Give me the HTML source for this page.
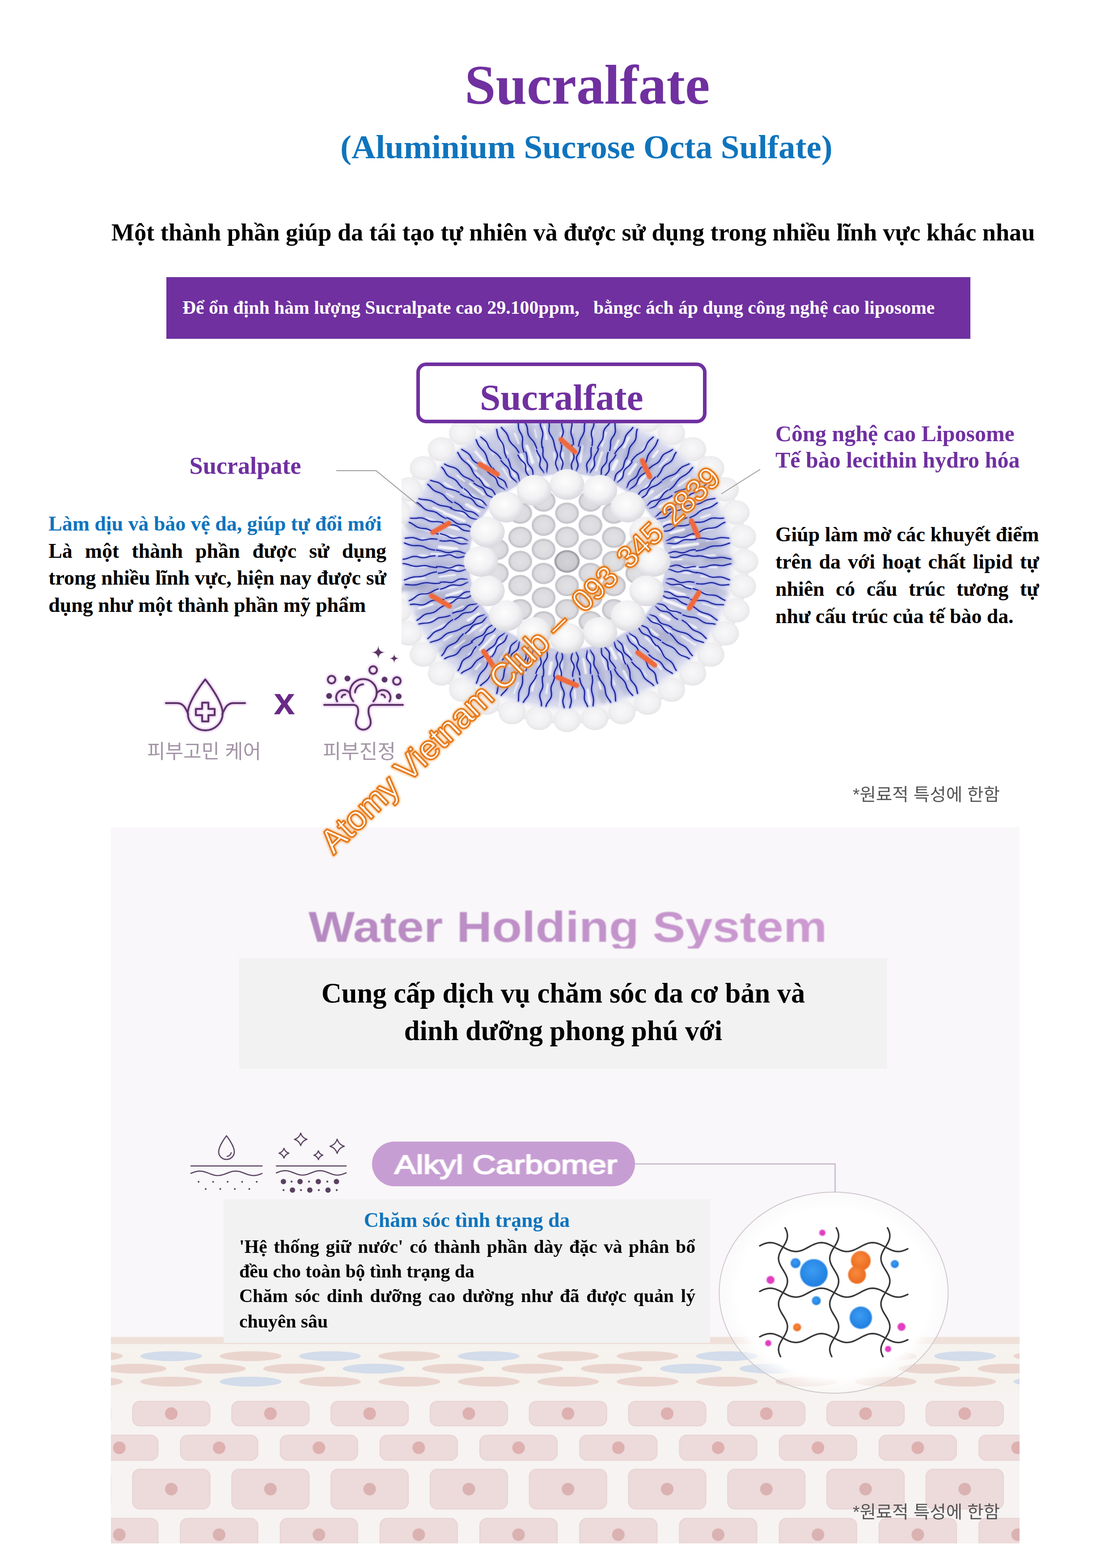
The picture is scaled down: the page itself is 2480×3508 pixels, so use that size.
<!DOCTYPE html>
<html><head><meta charset="utf-8"><title>Sucralfate</title><style>
*{box-sizing:border-box}
html,body{margin:0;padding:0;background:#fff}
body{width:2480px;height:3508px;position:relative;overflow:hidden;font-family:"Liberation Serif",serif;font-weight:bold;color:#000}
.t{position:absolute;white-space:nowrap;line-height:1;margin:0}
.j{text-align:justify;text-align-last:justify;white-space:normal}
.c{text-align:center}
.abs{position:absolute}
svg{position:absolute;left:0;top:0;overflow:visible}

.panel{position:absolute;left:248px;top:1851px;width:2032px;height:1602px;background:#f9f7f9;overflow:hidden}
</style></head>
<body>
<div class="t" style="left:1039px;top:128.3px;font-size:125px;color:#7030a0;">Sucralfate</div>
<div class="t" style="left:761px;top:291.2px;font-size:75px;color:#0f74bd;">(Aluminium Sucrose Octa Sulfate)</div>
<div class="t" style="left:249px;top:492.6px;font-size:54.2px;color:#000;">Một thành phần giúp da tái tạo tự nhiên và được sử dụng trong nhiều lĩnh vực khác nhau</div>
<div class="abs" style="left:372px;top:620px;width:1798px;height:138px;background:#7030a0"></div>
<div class="t" style="left:408px;top:667.6px;font-size:41.7px;color:#fff;white-space:pre;">Để ổn định hàm lượng Sucralpate cao 29.100ppm,&nbsp;&nbsp; bằngc ách áp dụng công nghệ cao liposome</div>
<svg width="2480" height="3508" viewBox="0 0 2480 3508">
<clipPath id="cpL"><rect x="898" y="880" width="800" height="780"/></clipPath>
<g clip-path="url(#cpL)"><defs><radialGradient id="gW" cx="45%" cy="40%" r="62%"><stop offset="0" stop-color="#fdfdfd"/><stop offset="0.6" stop-color="#f1f1f3"/><stop offset="1" stop-color="#d6d6dc"/></radialGradient><radialGradient id="gO" cx="48%" cy="45%" r="58%"><stop offset="0" stop-color="#f8f8f9"/><stop offset="0.65" stop-color="#f0f0f2"/><stop offset="1" stop-color="#e2e2e6"/></radialGradient><radialGradient id="gG" cx="50%" cy="50%" r="50%"><stop offset="0" stop-color="#e2e2e5"/><stop offset="0.72" stop-color="#dbdbdf"/><stop offset="0.9" stop-color="#c3c3c9"/><stop offset="1" stop-color="#d0d0d6"/></radialGradient><radialGradient id="gC" cx="50%" cy="50%" r="50%"><stop offset="0" stop-color="#d4d4d8"/><stop offset="0.76" stop-color="#cacacf"/><stop offset="0.9" stop-color="#9a9aa3"/><stop offset="1" stop-color="#b8b8c0"/></radialGradient><radialGradient id="gR" cx="50%" cy="50%" r="50%"><stop offset="0.55" stop-color="#dcddec"/><stop offset="0.64" stop-color="#c8cae2"/><stop offset="0.78" stop-color="#c2c5e0"/><stop offset="0.9" stop-color="#c8cbe4"/><stop offset="0.955" stop-color="#dadcee"/><stop offset="1" stop-color="#f0f0f6" stop-opacity="0"/></radialGradient><filter id="fB" x="-20%" y="-20%" width="140%" height="140%"><feGaussianBlur stdDeviation="1.3"/></filter><filter id="fB2" x="-20%" y="-20%" width="140%" height="140%"><feGaussianBlur stdDeviation="3"/></filter></defs>
<g transform="translate(1268,1256) scale(1.12,1)">
<g opacity="0.95">
<circle cx="335" cy="26.4" r="27" fill="url(#gO)"/>
<circle cx="326.7" cy="78.4" r="27" fill="url(#gO)"/>
<circle cx="310.4" cy="128.6" r="27" fill="url(#gO)"/>
<circle cx="286.5" cy="175.6" r="27" fill="url(#gO)"/>
<circle cx="255.5" cy="218.2" r="27" fill="url(#gO)"/>
<circle cx="218.2" cy="255.5" r="27" fill="url(#gO)"/>
<circle cx="175.6" cy="286.5" r="27" fill="url(#gO)"/>
<circle cx="128.6" cy="310.4" r="27" fill="url(#gO)"/>
<circle cx="78.4" cy="326.7" r="27" fill="url(#gO)"/>
<circle cx="26.4" cy="335" r="27" fill="url(#gO)"/>
<circle cx="-26.4" cy="335" r="27" fill="url(#gO)"/>
<circle cx="-78.4" cy="326.7" r="27" fill="url(#gO)"/>
<circle cx="-128.6" cy="310.4" r="27" fill="url(#gO)"/>
<circle cx="-175.6" cy="286.5" r="27" fill="url(#gO)"/>
<circle cx="-218.2" cy="255.5" r="27" fill="url(#gO)"/>
<circle cx="-255.5" cy="218.2" r="27" fill="url(#gO)"/>
<circle cx="-286.5" cy="175.6" r="27" fill="url(#gO)"/>
<circle cx="-310.4" cy="128.6" r="27" fill="url(#gO)"/>
<circle cx="-326.7" cy="78.4" r="27" fill="url(#gO)"/>
<circle cx="-335" cy="26.4" r="27" fill="url(#gO)"/>
<circle cx="-335" cy="-26.4" r="27" fill="url(#gO)"/>
<circle cx="-326.7" cy="-78.4" r="27" fill="url(#gO)"/>
<circle cx="-310.4" cy="-128.6" r="27" fill="url(#gO)"/>
<circle cx="-286.5" cy="-175.6" r="27" fill="url(#gO)"/>
<circle cx="-255.5" cy="-218.2" r="27" fill="url(#gO)"/>
<circle cx="-218.2" cy="-255.5" r="27" fill="url(#gO)"/>
<circle cx="-175.6" cy="-286.5" r="27" fill="url(#gO)"/>
<circle cx="-128.6" cy="-310.4" r="27" fill="url(#gO)"/>
<circle cx="-78.4" cy="-326.7" r="27" fill="url(#gO)"/>
<circle cx="-26.4" cy="-335" r="27" fill="url(#gO)"/>
<circle cx="26.4" cy="-335" r="27" fill="url(#gO)"/>
<circle cx="78.4" cy="-326.7" r="27" fill="url(#gO)"/>
<circle cx="128.6" cy="-310.4" r="27" fill="url(#gO)"/>
<circle cx="175.6" cy="-286.5" r="27" fill="url(#gO)"/>
<circle cx="218.2" cy="-255.5" r="27" fill="url(#gO)"/>
<circle cx="255.5" cy="-218.2" r="27" fill="url(#gO)"/>
<circle cx="286.5" cy="-175.6" r="27" fill="url(#gO)"/>
<circle cx="310.4" cy="-128.6" r="27" fill="url(#gO)"/>
<circle cx="326.7" cy="-78.4" r="27" fill="url(#gO)"/>
<circle cx="335" cy="-26.4" r="27" fill="url(#gO)"/>
<circle cx="355" cy="0" r="27" fill="url(#gO)"/>
<circle cx="350.6" cy="55.5" r="27" fill="url(#gO)"/>
<circle cx="337.6" cy="109.7" r="27" fill="url(#gO)"/>
<circle cx="316.3" cy="161.2" r="27" fill="url(#gO)"/>
<circle cx="287.2" cy="208.7" r="27" fill="url(#gO)"/>
<circle cx="251" cy="251" r="27" fill="url(#gO)"/>
<circle cx="208.7" cy="287.2" r="27" fill="url(#gO)"/>
<circle cx="161.2" cy="316.3" r="27" fill="url(#gO)"/>
<circle cx="109.7" cy="337.6" r="27" fill="url(#gO)"/>
<circle cx="55.5" cy="350.6" r="27" fill="url(#gO)"/>
<circle cx="0" cy="355" r="27" fill="url(#gO)"/>
<circle cx="-55.5" cy="350.6" r="27" fill="url(#gO)"/>
<circle cx="-109.7" cy="337.6" r="27" fill="url(#gO)"/>
<circle cx="-161.2" cy="316.3" r="27" fill="url(#gO)"/>
<circle cx="-208.7" cy="287.2" r="27" fill="url(#gO)"/>
<circle cx="-251" cy="251" r="27" fill="url(#gO)"/>
<circle cx="-287.2" cy="208.7" r="27" fill="url(#gO)"/>
<circle cx="-316.3" cy="161.2" r="27" fill="url(#gO)"/>
<circle cx="-337.6" cy="109.7" r="27" fill="url(#gO)"/>
<circle cx="-350.6" cy="55.5" r="27" fill="url(#gO)"/>
<circle cx="-355" cy="0" r="27" fill="url(#gO)"/>
<circle cx="-350.6" cy="-55.5" r="27" fill="url(#gO)"/>
<circle cx="-337.6" cy="-109.7" r="27" fill="url(#gO)"/>
<circle cx="-316.3" cy="-161.2" r="27" fill="url(#gO)"/>
<circle cx="-287.2" cy="-208.7" r="27" fill="url(#gO)"/>
<circle cx="-251" cy="-251" r="27" fill="url(#gO)"/>
<circle cx="-208.7" cy="-287.2" r="27" fill="url(#gO)"/>
<circle cx="-161.2" cy="-316.3" r="27" fill="url(#gO)"/>
<circle cx="-109.7" cy="-337.6" r="27" fill="url(#gO)"/>
<circle cx="-55.5" cy="-350.6" r="27" fill="url(#gO)"/>
<circle cx="-0" cy="-355" r="27" fill="url(#gO)"/>
<circle cx="55.5" cy="-350.6" r="27" fill="url(#gO)"/>
<circle cx="109.7" cy="-337.6" r="27" fill="url(#gO)"/>
<circle cx="161.2" cy="-316.3" r="27" fill="url(#gO)"/>
<circle cx="208.7" cy="-287.2" r="27" fill="url(#gO)"/>
<circle cx="251" cy="-251" r="27" fill="url(#gO)"/>
<circle cx="287.2" cy="-208.7" r="27" fill="url(#gO)"/>
<circle cx="316.3" cy="-161.2" r="27" fill="url(#gO)"/>
<circle cx="337.6" cy="-109.7" r="27" fill="url(#gO)"/>
<circle cx="350.6" cy="-55.5" r="27" fill="url(#gO)"/>
</g>
<circle r="338" fill="url(#gR)"/>
<g filter="url(#fB2)">
<ellipse cx="-263.1" cy="81.2" rx="32.8" ry="8.3" fill="#8a8fae" opacity="0.3" transform="rotate(162.9 -263.1 81.2)"/>
<ellipse cx="148.4" cy="-191.2" rx="30.9" ry="8.4" fill="#8a8fae" opacity="0.3" transform="rotate(307.8 148.4 -191.2)"/>
<ellipse cx="62.3" cy="-225" rx="22.9" ry="6.5" fill="#8a8fae" opacity="0.3" transform="rotate(285.5 62.3 -225)"/>
<ellipse cx="-185" cy="-208.3" rx="24.3" ry="8.3" fill="#8a8fae" opacity="0.3" transform="rotate(228.4 -185 -208.3)"/>
<ellipse cx="-178.8" cy="-158.8" rx="18.2" ry="8.6" fill="#8f94b4" opacity="0.3" transform="rotate(221.6 -178.8 -158.8)"/>
<ellipse cx="296.6" cy="67.6" rx="27.6" ry="9.9" fill="#9aa0c4" opacity="0.3" transform="rotate(12.8 296.6 67.6)"/>
<ellipse cx="-280.1" cy="109.8" rx="26.3" ry="9.2" fill="#9aa0c4" opacity="0.3" transform="rotate(158.6 -280.1 109.8)"/>
<ellipse cx="232.6" cy="6.7" rx="28.5" ry="8" fill="#8a8fae" opacity="0.3" transform="rotate(1.7 232.6 6.7)"/>
<ellipse cx="300.5" cy="-8.1" rx="29.3" ry="7.6" fill="#8f94b4" opacity="0.3" transform="rotate(358.4 300.5 -8.1)"/>
<ellipse cx="-226.9" cy="-18.4" rx="27" ry="6.5" fill="#8f94b4" opacity="0.3" transform="rotate(184.6 -226.9 -18.4)"/>
<ellipse cx="148.2" cy="-213.4" rx="33.3" ry="10.2" fill="#8f94b4" opacity="0.3" transform="rotate(304.8 148.2 -213.4)"/>
<ellipse cx="70.1" cy="300.4" rx="18.8" ry="7.9" fill="#8a8fae" opacity="0.3" transform="rotate(76.9 70.1 300.4)"/>
<ellipse cx="-185.1" cy="139.1" rx="28.1" ry="9.9" fill="#9aa0c4" opacity="0.3" transform="rotate(143.1 -185.1 139.1)"/>
<ellipse cx="-131.4" cy="216.2" rx="18.2" ry="8.1" fill="#8f94b4" opacity="0.3" transform="rotate(121.3 -131.4 216.2)"/>
<ellipse cx="191.4" cy="216" rx="18.2" ry="8.3" fill="#9aa0c4" opacity="0.3" transform="rotate(48.5 191.4 216)"/>
<ellipse cx="120.9" cy="247.4" rx="25.2" ry="7" fill="#8a8fae" opacity="0.3" transform="rotate(64 120.9 247.4)"/>
<ellipse cx="32.1" cy="-260.8" rx="24.1" ry="8" fill="#8f94b4" opacity="0.3" transform="rotate(277 32.1 -260.8)"/>
<ellipse cx="302.8" cy="0.9" rx="33.6" ry="9" fill="#8f94b4" opacity="0.3" transform="rotate(0.2 302.8 0.9)"/>
<ellipse cx="63.7" cy="252.6" rx="31.7" ry="9.2" fill="#8f94b4" opacity="0.3" transform="rotate(75.9 63.7 252.6)"/>
<ellipse cx="229.9" cy="62.3" rx="25.1" ry="6" fill="#8a8fae" opacity="0.3" transform="rotate(15.2 229.9 62.3)"/>
<ellipse cx="-119.8" cy="221.3" rx="19.2" ry="6.5" fill="#8a8fae" opacity="0.3" transform="rotate(118.4 -119.8 221.3)"/>
<ellipse cx="-148" cy="-171.3" rx="23.9" ry="9.1" fill="#8f94b4" opacity="0.3" transform="rotate(229.2 -148 -171.3)"/>
<ellipse cx="259.7" cy="-68.2" rx="27.2" ry="10.3" fill="#8f94b4" opacity="0.3" transform="rotate(345.3 259.7 -68.2)"/>
<ellipse cx="-176.3" cy="-181.4" rx="21.7" ry="9.1" fill="#8a8fae" opacity="0.3" transform="rotate(225.8 -176.3 -181.4)"/>
<ellipse cx="107.7" cy="270.9" rx="33" ry="7" fill="#9aa0c4" opacity="0.3" transform="rotate(68.3 107.7 270.9)"/>
<ellipse cx="206.2" cy="-188.4" rx="24.7" ry="6.5" fill="#8f94b4" opacity="0.3" transform="rotate(317.6 206.2 -188.4)"/>
<ellipse cx="-247.2" cy="-19.2" rx="29.8" ry="8" fill="#9aa0c4" opacity="0.3" transform="rotate(184.4 -247.2 -19.2)"/>
<ellipse cx="124.5" cy="-249.3" rx="22.7" ry="6.9" fill="#8a8fae" opacity="0.3" transform="rotate(296.5 124.5 -249.3)"/>
<ellipse cx="234" cy="-33.8" rx="25.7" ry="9.3" fill="#8a8fae" opacity="0.3" transform="rotate(351.8 234 -33.8)"/>
<ellipse cx="-188.4" cy="-164.6" rx="32.7" ry="7" fill="#8f94b4" opacity="0.3" transform="rotate(221.1 -188.4 -164.6)"/>
<ellipse cx="237.7" cy="110.3" rx="22" ry="6.2" fill="#9aa0c4" opacity="0.3" transform="rotate(24.9 237.7 110.3)"/>
<ellipse cx="-187.7" cy="203" rx="20.1" ry="7.8" fill="#9aa0c4" opacity="0.3" transform="rotate(132.8 -187.7 203)"/>
<ellipse cx="282" cy="-34.7" rx="29.1" ry="8.9" fill="#8f94b4" opacity="0.3" transform="rotate(353 282 -34.7)"/>
<ellipse cx="-260.3" cy="-164.9" rx="25.6" ry="7.8" fill="#9aa0c4" opacity="0.3" transform="rotate(212.4 -260.3 -164.9)"/>
<ellipse cx="220.7" cy="-52.6" rx="28.2" ry="8.4" fill="#8a8fae" opacity="0.3" transform="rotate(346.6 220.7 -52.6)"/>
<ellipse cx="-88.8" cy="220" rx="19.2" ry="8.3" fill="#9aa0c4" opacity="0.3" transform="rotate(112 -88.8 220)"/>
<ellipse cx="-25" cy="-305" rx="29.8" ry="9.5" fill="#9aa0c4" opacity="0.3" transform="rotate(265.3 -25 -305)"/>
<ellipse cx="-171.2" cy="230" rx="32.4" ry="10.4" fill="#9aa0c4" opacity="0.3" transform="rotate(126.7 -171.2 230)"/>
<ellipse cx="213.9" cy="-78.2" rx="26" ry="6.1" fill="#8a8fae" opacity="0.3" transform="rotate(339.9 213.9 -78.2)"/>
<ellipse cx="-205" cy="186.9" rx="27.7" ry="6.4" fill="#8a8fae" opacity="0.3" transform="rotate(137.6 -205 186.9)"/>
<ellipse cx="185.5" cy="164.8" rx="24.7" ry="7.7" fill="#8a8fae" opacity="0.3" transform="rotate(41.6 185.5 164.8)"/>
<ellipse cx="-91.5" cy="-250" rx="25.4" ry="8.7" fill="#8a8fae" opacity="0.3" transform="rotate(249.9 -91.5 -250)"/>
<ellipse cx="0.3" cy="-227.7" rx="27.6" ry="8.4" fill="#8f94b4" opacity="0.3" transform="rotate(270.1 0.3 -227.7)"/>
<ellipse cx="226.8" cy="-62.2" rx="30.5" ry="9.3" fill="#9aa0c4" opacity="0.3" transform="rotate(344.7 226.8 -62.2)"/>
<ellipse cx="-8.3" cy="225.9" rx="22.8" ry="9.4" fill="#8f94b4" opacity="0.3" transform="rotate(92.1 -8.3 225.9)"/>
<ellipse cx="-290.9" cy="-33.8" rx="23.5" ry="10.7" fill="#9aa0c4" opacity="0.3" transform="rotate(186.6 -290.9 -33.8)"/>
<ellipse cx="197.8" cy="-160" rx="28.7" ry="7" fill="#9aa0c4" opacity="0.3" transform="rotate(321 197.8 -160)"/>
<ellipse cx="97" cy="-276.4" rx="21.2" ry="7.1" fill="#8f94b4" opacity="0.3" transform="rotate(289.3 97 -276.4)"/>
<ellipse cx="-219.7" cy="-126.4" rx="20.2" ry="8.5" fill="#8f94b4" opacity="0.3" transform="rotate(209.9 -219.7 -126.4)"/>
<ellipse cx="-74.9" cy="-301.3" rx="22.4" ry="6.8" fill="#9aa0c4" opacity="0.3" transform="rotate(256 -74.9 -301.3)"/>
<ellipse cx="-303.3" cy="55.2" rx="31.3" ry="7.9" fill="#8a8fae" opacity="0.3" transform="rotate(169.7 -303.3 55.2)"/>
<ellipse cx="-253.2" cy="9.7" rx="31.4" ry="10.9" fill="#9aa0c4" opacity="0.3" transform="rotate(177.8 -253.2 9.7)"/>
<ellipse cx="-128.1" cy="270.8" rx="22.4" ry="9" fill="#8a8fae" opacity="0.3" transform="rotate(115.3 -128.1 270.8)"/>
<ellipse cx="-71" cy="-267.1" rx="22.9" ry="10" fill="#8f94b4" opacity="0.3" transform="rotate(255.1 -71 -267.1)"/>
<ellipse cx="-165.4" cy="-202.5" rx="21" ry="9.8" fill="#9aa0c4" opacity="0.3" transform="rotate(230.8 -165.4 -202.5)"/>
<ellipse cx="18.8" cy="236.9" rx="18.8" ry="9.1" fill="#9aa0c4" opacity="0.3" transform="rotate(85.5 18.8 236.9)"/>
<ellipse cx="211.6" cy="172.8" rx="28.2" ry="7.8" fill="#8f94b4" opacity="0.3" transform="rotate(39.2 211.6 172.8)"/>
<ellipse cx="-97.2" cy="-222.7" rx="25.6" ry="6.9" fill="#8f94b4" opacity="0.3" transform="rotate(246.4 -97.2 -222.7)"/>
<ellipse cx="8.7" cy="-273" rx="18.6" ry="7.1" fill="#9aa0c4" opacity="0.3" transform="rotate(271.8 8.7 -273)"/>
<ellipse cx="-300.6" cy="-76.6" rx="26" ry="11" fill="#8f94b4" opacity="0.3" transform="rotate(194.3 -300.6 -76.6)"/>
<ellipse cx="-232.4" cy="183.8" rx="32.5" ry="6.4" fill="#8a8fae" opacity="0.3" transform="rotate(141.7 -232.4 183.8)"/>
<ellipse cx="-202.4" cy="171.9" rx="21.2" ry="10.4" fill="#8f94b4" opacity="0.3" transform="rotate(139.7 -202.4 171.9)"/>
<ellipse cx="-197.5" cy="193.1" rx="32.1" ry="10" fill="#9aa0c4" opacity="0.3" transform="rotate(135.6 -197.5 193.1)"/>
<ellipse cx="-276.3" cy="64.1" rx="21.3" ry="9.6" fill="#8a8fae" opacity="0.3" transform="rotate(166.9 -276.3 64.1)"/>
<ellipse cx="209.9" cy="-108.2" rx="21.9" ry="8" fill="#8f94b4" opacity="0.3" transform="rotate(332.7 209.9 -108.2)"/>
<ellipse cx="270.6" cy="-38.8" rx="30.7" ry="7.6" fill="#8a8fae" opacity="0.3" transform="rotate(351.8 270.6 -38.8)"/>
<ellipse cx="158.1" cy="-201.8" rx="19.3" ry="8.2" fill="#8a8fae" opacity="0.3" transform="rotate(308.1 158.1 -201.8)"/>
<ellipse cx="-219.9" cy="118.4" rx="32.7" ry="7.1" fill="#8f94b4" opacity="0.3" transform="rotate(151.7 -219.9 118.4)"/>
<ellipse cx="-205.8" cy="98.5" rx="26.5" ry="9.4" fill="#8f94b4" opacity="0.3" transform="rotate(154.4 -205.8 98.5)"/>
<ellipse cx="-309.6" cy="57.9" rx="32.4" ry="8.6" fill="#8a8fae" opacity="0.3" transform="rotate(169.4 -309.6 57.9)"/>
</g>
<g stroke="#ffffff" stroke-linecap="round" opacity="0.8" filter="url(#fB)">
<line x1="230.3" y1="12.7" x2="264.1" y2="14.5" stroke-width="7.3"/>
<line x1="212.1" y1="22.6" x2="246.8" y2="26.3" stroke-width="4.3"/>
<line x1="217.4" y1="51.3" x2="251.2" y2="59.3" stroke-width="6.8"/>
<line x1="205.3" y1="65.5" x2="234" y2="74.7" stroke-width="6.8"/>
<line x1="194.8" y1="86.2" x2="236.1" y2="104.5" stroke-width="7.4"/>
<line x1="196.5" y1="102.7" x2="218.2" y2="114" stroke-width="5.4"/>
<line x1="187.7" y1="119.6" x2="203.6" y2="129.8" stroke-width="7.4"/>
<line x1="172.5" y1="132.6" x2="207.1" y2="159.2" stroke-width="5.5"/>
<line x1="165.7" y1="151.6" x2="180.5" y2="165.2" stroke-width="5.4"/>
<line x1="156.9" y1="169.5" x2="189.2" y2="204.4" stroke-width="4.2"/>
<line x1="128.7" y1="167.2" x2="148.2" y2="192.5" stroke-width="6.7"/>
<line x1="113.4" y1="187.9" x2="128" y2="211.9" stroke-width="3.9"/>
<line x1="104.9" y1="204.9" x2="114.9" y2="224.7" stroke-width="6.5"/>
<line x1="87" y1="194.1" x2="97.3" y2="217.1" stroke-width="6.1"/>
<line x1="67.3" y1="205.8" x2="79.1" y2="241.8" stroke-width="3.5"/>
<line x1="42.8" y1="206.6" x2="49.8" y2="240.2" stroke-width="4.1"/>
<line x1="32.8" y1="218.3" x2="37.5" y2="249.9" stroke-width="4.7"/>
<line x1="10.8" y1="220.4" x2="11.9" y2="243.5" stroke-width="3.9"/>
<line x1="-11.5" y1="223" x2="-13.3" y2="257.9" stroke-width="6.8"/>
<line x1="-31.4" y1="226.4" x2="-34.8" y2="251.6" stroke-width="6.3"/>
<line x1="-53.9" y1="223.3" x2="-60.5" y2="250.6" stroke-width="4.4"/>
<line x1="-69.3" y1="201.7" x2="-85.5" y2="248.9" stroke-width="7"/>
<line x1="-77.4" y1="199.2" x2="-92.4" y2="237.7" stroke-width="4.2"/>
<line x1="-100.3" y1="204.7" x2="-114.2" y2="233" stroke-width="6.6"/>
<line x1="-112.8" y1="186.2" x2="-133.5" y2="220.3" stroke-width="3.1"/>
<line x1="-133.4" y1="180.4" x2="-161.4" y2="218.4" stroke-width="7.4"/>
<line x1="-144.9" y1="165.7" x2="-172.8" y2="197.5" stroke-width="5.3"/>
<line x1="-158.3" y1="141.8" x2="-173.4" y2="155.4" stroke-width="3.5"/>
<line x1="-171.7" y1="139.5" x2="-198.5" y2="161.2" stroke-width="5.6"/>
<line x1="-176.7" y1="117.9" x2="-197.1" y2="131.5" stroke-width="6.8"/>
<line x1="-207.3" y1="100.3" x2="-226.2" y2="109.4" stroke-width="3.3"/>
<line x1="-204.6" y1="78.3" x2="-244.3" y2="93.5" stroke-width="4.5"/>
<line x1="-210" y1="66.7" x2="-240.3" y2="76.3" stroke-width="5.7"/>
<line x1="-218" y1="55" x2="-261.6" y2="66.1" stroke-width="3.8"/>
<line x1="-223.7" y1="30.1" x2="-254.4" y2="34.2" stroke-width="3.9"/>
<line x1="-219.9" y1="14" x2="-238.3" y2="15.2" stroke-width="7"/>
<line x1="-224.5" y1="-13.9" x2="-269.9" y2="-16.7" stroke-width="5.8"/>
<line x1="-220.7" y1="-27.8" x2="-254.5" y2="-32" stroke-width="7.4"/>
<line x1="-208.2" y1="-50.2" x2="-254.1" y2="-61.2" stroke-width="6.3"/>
<line x1="-215.8" y1="-72" x2="-245.2" y2="-81.8" stroke-width="7"/>
<line x1="-205.6" y1="-90.7" x2="-244.5" y2="-107.9" stroke-width="6.4"/>
<line x1="-200.5" y1="-102.9" x2="-218.5" y2="-112.2" stroke-width="4.5"/>
<line x1="-175.8" y1="-111.6" x2="-200.7" y2="-127.3" stroke-width="5.9"/>
<line x1="-168.5" y1="-131.3" x2="-206.5" y2="-160.9" stroke-width="6"/>
<line x1="-166.5" y1="-149.6" x2="-193.4" y2="-173.8" stroke-width="5.4"/>
<line x1="-157.9" y1="-170" x2="-184.1" y2="-198.3" stroke-width="6.2"/>
<line x1="-138" y1="-185.9" x2="-149.2" y2="-200.9" stroke-width="5.8"/>
<line x1="-112.5" y1="-182.3" x2="-128.7" y2="-208.5" stroke-width="3.2"/>
<line x1="-103.7" y1="-190.6" x2="-113.8" y2="-209.2" stroke-width="4.1"/>
<line x1="-79.7" y1="-206.4" x2="-92" y2="-238.3" stroke-width="7.4"/>
<line x1="-68.8" y1="-221.4" x2="-80.2" y2="-258.1" stroke-width="6.6"/>
<line x1="-53.6" y1="-215.8" x2="-63.8" y2="-256.8" stroke-width="3.2"/>
<line x1="-22.2" y1="-210.7" x2="-25.7" y2="-243.6" stroke-width="3.8"/>
<line x1="-9.8" y1="-222.5" x2="-10.6" y2="-242.3" stroke-width="7.3"/>
<line x1="8.6" y1="-220.5" x2="10" y2="-257.6" stroke-width="4.6"/>
<line x1="26.3" y1="-222.2" x2="30.6" y2="-257.9" stroke-width="4.3"/>
<line x1="49.3" y1="-209.4" x2="53.5" y2="-227.3" stroke-width="4.1"/>
<line x1="58.1" y1="-203.6" x2="69.7" y2="-244.2" stroke-width="4.8"/>
<line x1="91.4" y1="-206.6" x2="99.4" y2="-224.6" stroke-width="7.4"/>
<line x1="101.8" y1="-183.4" x2="124.6" y2="-224.5" stroke-width="4.9"/>
<line x1="124" y1="-195.3" x2="137.9" y2="-217.1" stroke-width="5.4"/>
<line x1="141.8" y1="-175.1" x2="162.6" y2="-200.8" stroke-width="7.4"/>
<line x1="153.4" y1="-161.1" x2="168.3" y2="-176.9" stroke-width="5.8"/>
<line x1="156.6" y1="-144.2" x2="171" y2="-157.6" stroke-width="5.4"/>
<line x1="170.4" y1="-137" x2="201.1" y2="-161.6" stroke-width="5"/>
<line x1="185.5" y1="-121.9" x2="211.7" y2="-139.2" stroke-width="6.5"/>
<line x1="205.9" y1="-106.7" x2="249" y2="-129" stroke-width="6.3"/>
<line x1="193.4" y1="-83.7" x2="236.1" y2="-102.2" stroke-width="6.5"/>
<line x1="207.1" y1="-63.6" x2="232.6" y2="-71.4" stroke-width="6.1"/>
<line x1="217.1" y1="-47.2" x2="254.5" y2="-55.4" stroke-width="6.4"/>
<line x1="211.6" y1="-31.9" x2="260.4" y2="-39.2" stroke-width="7.1"/>
<line x1="208.9" y1="-4.4" x2="228.8" y2="-4.8" stroke-width="4.2"/>
<line x1="282.7" y1="12.6" x2="298.7" y2="13.3" stroke-width="4.1"/>
<line x1="268.1" y1="32.8" x2="295.4" y2="36.1" stroke-width="4.2"/>
<line x1="268.1" y1="69.4" x2="290.9" y2="75.3" stroke-width="3.1"/>
<line x1="270.1" y1="93.8" x2="299.1" y2="103.9" stroke-width="2.7"/>
<line x1="262.6" y1="116.9" x2="286.7" y2="127.7" stroke-width="4.8"/>
<line x1="241" y1="138.9" x2="257.6" y2="148.5" stroke-width="4.9"/>
<line x1="229.2" y1="167.2" x2="256.5" y2="187.1" stroke-width="3.5"/>
<line x1="211.3" y1="192.6" x2="235.2" y2="214.5" stroke-width="3.8"/>
<line x1="183.1" y1="198.9" x2="204.4" y2="222" stroke-width="2.7"/>
<line x1="173.3" y1="221.9" x2="187.9" y2="240.5" stroke-width="4.6"/>
<line x1="150.3" y1="244" x2="158.4" y2="257.3" stroke-width="3.1"/>
<line x1="113" y1="245.2" x2="121.5" y2="263.4" stroke-width="4.7"/>
<line x1="89.6" y1="259.8" x2="95.1" y2="275.7" stroke-width="3.6"/>
<line x1="63.6" y1="269.4" x2="67.4" y2="285.3" stroke-width="4.6"/>
<line x1="41.4" y1="287.1" x2="46" y2="319.5" stroke-width="5.2"/>
<line x1="15.2" y1="286.9" x2="16.2" y2="306.9" stroke-width="3.5"/>
<line x1="-12.5" y1="290.2" x2="-13.9" y2="322" stroke-width="3.2"/>
<line x1="-38.3" y1="274.1" x2="-41.3" y2="295.2" stroke-width="3.7"/>
<line x1="-64.5" y1="264.9" x2="-70.4" y2="289.5" stroke-width="4.9"/>
<line x1="-97.7" y1="271" x2="-106.3" y2="294.8" stroke-width="3"/>
<line x1="-127.7" y1="259.4" x2="-136.3" y2="277" stroke-width="2.6"/>
<line x1="-144.7" y1="240.9" x2="-157.8" y2="262.7" stroke-width="5.4"/>
<line x1="-173.2" y1="229.2" x2="-182.4" y2="241.4" stroke-width="4.1"/>
<line x1="-184.8" y1="196.9" x2="-195.5" y2="208.3" stroke-width="4.7"/>
<line x1="-204.4" y1="176.5" x2="-224.6" y2="193.9" stroke-width="2.9"/>
<line x1="-230.2" y1="165.5" x2="-245.6" y2="176.6" stroke-width="3.2"/>
<line x1="-242.9" y1="140.4" x2="-268.2" y2="155" stroke-width="3.7"/>
<line x1="-262.1" y1="127.1" x2="-286.7" y2="139.1" stroke-width="4"/>
<line x1="-268.8" y1="95.5" x2="-295.4" y2="104.9" stroke-width="5.2"/>
<line x1="-278.8" y1="71.4" x2="-305.3" y2="78.2" stroke-width="5.1"/>
<line x1="-285.6" y1="37" x2="-317.1" y2="41.1" stroke-width="5.4"/>
<line x1="-280.3" y1="11.4" x2="-308.5" y2="12.6" stroke-width="4.9"/>
<line x1="-277.8" y1="-12.3" x2="-294.7" y2="-13.1" stroke-width="4.7"/>
<line x1="-272.7" y1="-48.7" x2="-289.8" y2="-51.8" stroke-width="3.1"/>
<line x1="-267.1" y1="-65.6" x2="-299.5" y2="-73.6" stroke-width="2.7"/>
<line x1="-256" y1="-88.3" x2="-281.4" y2="-97.1" stroke-width="4.8"/>
<line x1="-245.8" y1="-110.5" x2="-266.9" y2="-120" stroke-width="4.3"/>
<line x1="-227.2" y1="-143.8" x2="-240.8" y2="-152.5" stroke-width="3.1"/>
<line x1="-222.5" y1="-159.3" x2="-245.6" y2="-175.8" stroke-width="4.3"/>
<line x1="-204.9" y1="-179.6" x2="-219.6" y2="-192.5" stroke-width="3"/>
<line x1="-181.8" y1="-207" x2="-198.3" y2="-225.7" stroke-width="5"/>
<line x1="-163.6" y1="-220.1" x2="-182.6" y2="-245.6" stroke-width="5.2"/>
<line x1="-146.8" y1="-239.8" x2="-164.1" y2="-268" stroke-width="3.9"/>
<line x1="-119.2" y1="-241.4" x2="-133.7" y2="-270.9" stroke-width="4.9"/>
<line x1="-96.4" y1="-263.6" x2="-104.7" y2="-286.4" stroke-width="3.3"/>
<line x1="-60.8" y1="-277.2" x2="-64.8" y2="-295.5" stroke-width="2.5"/>
<line x1="-41.1" y1="-273.9" x2="-45.5" y2="-303.5" stroke-width="4.6"/>
<line x1="-11.6" y1="-271.5" x2="-12.3" y2="-288.6" stroke-width="3.5"/>
<line x1="10" y1="-288.7" x2="10.9" y2="-313" stroke-width="4.4"/>
<line x1="48.3" y1="-270.1" x2="52.6" y2="-294.4" stroke-width="3"/>
<line x1="69.3" y1="-258.9" x2="77.2" y2="-288.3" stroke-width="5"/>
<line x1="95.8" y1="-252.4" x2="102.7" y2="-270.5" stroke-width="4.6"/>
<line x1="113.4" y1="-255.5" x2="122.8" y2="-276.9" stroke-width="5.4"/>
<line x1="149.6" y1="-246.7" x2="160.1" y2="-263.9" stroke-width="4.9"/>
<line x1="171.6" y1="-233.8" x2="181" y2="-246.5" stroke-width="5"/>
<line x1="185.1" y1="-211.5" x2="201.2" y2="-230" stroke-width="3"/>
<line x1="207.8" y1="-180.9" x2="223" y2="-194.2" stroke-width="2.7"/>
<line x1="222.3" y1="-168.9" x2="244.8" y2="-186.1" stroke-width="3.6"/>
<line x1="233.6" y1="-136.5" x2="252.5" y2="-147.5" stroke-width="3.9"/>
<line x1="263.6" y1="-115.8" x2="288.4" y2="-126.6" stroke-width="2.5"/>
<line x1="267.7" y1="-98" x2="285.3" y2="-104.4" stroke-width="4.2"/>
<line x1="260" y1="-65.8" x2="292.8" y2="-74.1" stroke-width="4.9"/>
<line x1="279" y1="-46.4" x2="298.5" y2="-49.7" stroke-width="3.6"/>
<line x1="274.9" y1="-12.8" x2="295.6" y2="-13.8" stroke-width="3.7"/>
</g>
<g fill="none" stroke-linecap="round" stroke-linejoin="round">
<path stroke="#8a94f0" stroke-width="7.5" opacity="0.42" filter="url(#fB)" d="M327 -5.2 321.4 -6.5 315.8 -8.1 310.2 -9 304.6 -9 299 -8 293.4 -7.2 287.8 -7.2 282.2 -8.3 276.6 -10.1 271 -11.6 265.4 -12.2 259.8 -12.5 M327 5.2 321.8 6.5 316.6 8.1 311.4 9.1 306.2 9.2 301 8.4 295.8 7.8 290.6 7.9 285.4 9 280.2 10.9 275 12.3 269.8 12.9 264.6 13.2 M324.4 41.2 319 39 313.6 36.6 308.1 35 302.3 34.8 296.5 35.4 290.7 35.6 285.1 34.3 279.8 31.7 274.4 28.9 269 26.8 263.4 25.6 257.8 24.5 M322.9 51.9 317.4 52.5 311.9 53.1 306.6 53 301.4 51.5 296.3 49.3 291.2 47.7 285.8 47.5 280.2 48.7 274.6 50.1 269.2 50.6 263.8 50.3 258.5 49.8 M315.2 87.2 310.1 84.4 305.2 80.9 300.2 77.6 294.8 75.7 289.1 75.1 283.2 74.7 277.6 73.8 272.3 71.4 267.4 68.1 262.3 65 257 62.8 251.7 60.8 M312.3 97 306.7 96.7 300.9 96.7 295.4 96 290.1 94.3 285.1 91.8 280.1 89.4 274.8 87.9 269.2 87.3 263.4 87.5 257.7 87.3 252.2 86.4 246.8 85.2 M299.5 131.3 295.2 127.9 291 124.1 286.6 120.8 281.9 118.1 276.8 116.4 271.6 114.8 266.7 112.6 262.2 109.6 258 105.8 253.8 102.2 249.2 99.3 244.4 96.7 M295.4 140.4 289.8 139.3 283.9 138.9 278.1 138.2 272.8 136.2 268.2 133 263.7 129.5 258.9 126.7 253.5 125.1 247.7 124.4 242 123.4 236.7 121.8 231.4 119.8 M277.9 172.4 274.3 168.4 270.8 164.4 266.9 160.8 262.5 158.1 257.6 156.1 252.9 153.8 248.9 150.6 245.4 146.4 242.1 142 238.5 138 234.4 134.8 230.2 131.7 M272.3 181.2 266.7 179.2 261 177.5 255.6 175.3 250.9 172 246.8 167.8 242.5 163.8 237.5 161 231.8 159.2 226 157.7 220.4 155.8 215.3 153.1 210.3 150.3 M250.1 210.7 246.6 206.4 243.6 201.3 240.6 196.3 237.1 191.9 232.6 188.6 227.7 185.9 223 182.8 219.2 178.8 215.9 174.2 212.7 169.4 209.2 165.1 205.4 161 M244.1 217.6 239.5 214.8 234.2 212.6 228.9 210.5 224.3 207.6 220.6 203.6 217.4 199 213.9 194.8 209.5 191.6 204.5 189.2 199.4 186.8 194.8 184 190.3 180.9 M218 243.8 215.3 238.8 213.1 233.3 210.6 228.2 207.1 223.9 202.6 220.5 198 217.1 194.3 213 191.6 207.9 189.4 202.6 186.9 197.4 183.8 192.8 180.4 188.3 M210.3 250.4 205.9 247.4 201.3 244.5 197.1 241.3 193.8 237.4 191.2 232.7 188.6 228.1 185.1 224.3 180.6 221.5 175.7 218.8 171.2 215.9 167.3 212.4 163.6 208.8 M180.7 272.6 178.8 267.6 177.8 262.1 177.2 256.3 175.7 251.1 172.7 246.8 168.7 243.2 164.6 239.7 161.7 235.4 160 230.3 158.5 225 156.4 220.2 154.1 215.5 M172.9 277.6 169 273.4 164.4 269.7 159.7 266.1 155.6 262.1 152.7 257.3 150.5 252 148.2 246.8 145.3 242 141.1 238 136.7 234.2 133 229.9 129.5 225.5 M140.8 295.2 139.8 289.5 138.8 283.9 137 278.7 133.9 274 130.3 269.5 127.3 264.8 125.9 259.4 125.6 253.4 125.4 247.4 124.2 241.9 122.2 236.7 120.1 231.6 M130.9 299.7 127.2 295.2 123.7 290.5 120.9 285.6 118.9 280.2 117.4 274.7 115.3 269.4 111.9 264.7 107.8 260.4 103.6 256.1 100.1 251.4 97.4 246.4 94.9 241.3 M97 312.3 96.7 306.6 96.6 300.8 95.9 295.2 94.2 289.8 91.7 284.7 89.5 279.5 88.4 274 88.5 268.2 88.8 262.2 88.7 256.5 87.7 250.9 86.5 245.4 M87.3 315.2 84.5 310.4 81.4 305.6 78.9 300.8 77.2 295.6 76.5 290.2 75.9 284.8 74.6 279.5 72.3 274.6 69.1 269.9 66.1 265.1 64 260.1 62.1 255.1 M51.9 322.9 52.5 317.1 53 311.4 52.6 305.8 51.6 300.3 50.2 294.8 49.1 289.3 48.9 283.7 49.5 277.9 50.7 272.1 51.1 266.3 50.7 260.7 50.1 255.2 M41.1 324.4 39 319.3 36.5 314.1 34.8 308.9 34.5 303.5 35 297.9 35.1 292.4 34.2 287 32 281.9 29.2 276.8 27.2 271.6 26.1 266.3 25.1 260.9 M5.5 327 6.9 321.8 8.2 316.6 8.7 311.4 8 306.2 6.9 301 6.5 295.8 7.6 290.6 9.8 285.4 11.8 280.2 13 275 13.3 269.8 13.4 264.6 M-5.5 327 -6.9 321.7 -8.1 316.4 -8.3 311 -7.3 305.7 -6 300.4 -5.6 295.1 -6.8 289.8 -9.1 284.4 -11.3 279.1 -12.4 273.8 -12.7 268.5 -12.9 263.2 M-42.1 324.3 -40.5 318.9 -37.5 313.6 -34 308.4 -31.6 303.1 -30.9 297.5 -31.5 291.7 -32.1 285.9 -31.7 280.3 -29.9 274.8 -27.5 269.5 -25.8 264 -24.4 258.6 M-51 323 -51 317.6 -52.1 311.9 -53.8 306.2 -54.6 300.6 -53.8 295.3 -51.8 290.1 -49.5 284.9 -48.2 279.6 -48.5 274.1 -49.2 268.5 -49.4 263.1 -49.2 257.6 M-87.3 315.2 -84.4 310.2 -81 305.5 -77.9 300.6 -76.2 295.3 -75.7 289.6 -75.3 284 -73.8 278.6 -71 273.6 -67.7 268.8 -64.7 263.9 -62.5 258.8 -60.5 253.5 M-97 312.3 -96.7 306.5 -96.6 300.6 -96.4 294.8 -95.1 289.3 -92.9 284 -90.6 278.8 -89.2 273.3 -88.6 267.6 -88.7 261.6 -88.6 255.7 -87.6 250.1 -86.4 244.6 M-131.4 299.5 -128 295.1 -124.2 290.9 -120.7 286.6 -118.2 281.8 -116.7 276.6 -115.4 271.3 -113.2 266.3 -109.9 261.9 -106.1 257.7 -102.4 253.5 -99.5 248.9 -96.8 244.2 M-140.3 295.4 -139.1 289.9 -138.4 284.2 -137.3 278.7 -135.4 273.6 -132.4 269 -129.3 264.4 -127.1 259.4 -126.2 253.8 -125.6 248 -124.7 242.4 -123.1 237.1 -121.3 232 M-172.7 277.7 -168.7 273.8 -164.2 270.1 -160.2 266.1 -156.9 261.8 -154.4 256.8 -152.2 251.7 -149.3 247 -145.7 242.8 -141.4 239.1 -137.1 235.3 -133.5 231.1 -130.1 226.7 M-180.9 272.4 -179 267.2 -177.5 261.7 -175.7 256.4 -173.2 251.5 -169.9 247.2 -166.2 243.1 -162.9 238.7 -160.3 233.9 -158.8 228.4 -157.1 223 -154.8 218 -152.3 213.2 M-210.7 250.1 -206.6 246.6 -201.7 243.8 -196.6 241.2 -192 238.1 -188.5 234.1 -185.7 229.5 -182.7 225 -179.2 221 -174.9 217.7 -170.2 214.7 -166 211.3 -162 207.7 M-217.5 244.2 -214.7 239.6 -212.7 234.3 -211.1 228.7 -209 223.5 -205.6 219.4 -201.1 216.2 -196.3 213.4 -192.5 209.7 -189.8 204.9 -187.5 199.9 -184.7 195.3 -181.8 190.9 M-244.1 217.6 -239.4 214.7 -233.9 212.6 -228 211.1 -222.7 208.8 -218.6 205.2 -215.3 200.5 -212.3 195.7 -208.4 191.8 -203.4 189.1 -198.2 186.8 -193.5 183.8 -189 180.7 M-250.1 210.7 -246.7 206.5 -244.1 201.4 -241.7 195.9 -238.6 191.3 -234.4 188 -229.5 185.5 -224.6 183 -220.4 179.7 -217.2 175.2 -214.2 170.5 -210.7 166.4 -207.1 162.4 M-272.5 180.9 -267.1 178.9 -261.4 177.3 -256.1 175.2 -251.3 172.2 -247.3 168.2 -243.3 164 -238.7 160.7 -233.3 158.7 -227.6 157.3 -222 155.6 -216.9 153.2 -211.9 150.6 M-277.7 172.7 -273.9 168.8 -270.3 164.3 -266.8 160 -262.5 156.7 -257.6 154.5 -252.5 152.5 -247.9 149.8 -244 145.9 -240.4 141.5 -236.7 137.3 -232.6 133.8 -228.4 130.5 M-295.5 140.1 -290.2 138.9 -284.6 138.3 -279.1 137.7 -273.6 136.8 -268.7 134.7 -264.3 131.7 -260 128.3 -255.2 126 -249.8 125.1 -244.3 124.3 -239.1 122.9 -234 121.2 M-299.4 131.6 -295 128.4 -291 124.5 -286.9 120.7 -282.3 118 -277.2 116.6 -271.7 115.8 -266.6 114.3 -262.1 111.5 -257.9 107.8 -253.8 104.1 -249.3 101.2 -244.8 98.4 M-312.5 96.4 -306.9 95.6 -300.9 96 -294.7 97.1 -288.8 97.4 -283.4 95.9 -278.5 92.9 -273.6 89.5 -268.4 87.3 -262.7 86.7 -256.9 86.6 -251.3 85.9 -245.7 85 M-315 87.9 -310.2 85.6 -305.8 82.2 -301.5 78.2 -297 74.9 -292.1 73.2 -286.7 72.8 -281.4 72.5 -276.2 71.5 -271.5 69.1 -266.9 66.1 -262.2 63.7 -257.3 61.6 M-322.9 51.6 -317.1 52.1 -311.2 52.8 -305.4 52.9 -299.7 52.1 -294.2 50.4 -288.7 48.7 -283 47.7 -277.2 47.7 -271.3 48.7 -265.4 49.4 -259.7 49.2 -254 48.8 M-324.4 41.5 -319.2 39.4 -314 37 -308.7 35.4 -303.3 34.5 -297.9 34.3 -292.4 33.9 -287 32.7 -281.8 30.8 -276.7 28.2 -271.5 26 -266.2 24.6 -260.8 23.4 M-327 4.7 -321.4 5.7 -315.8 7.5 -310.3 9.4 -304.7 10.9 -299.1 11.1 -293.5 10.4 -288 9.5 -282.4 9.3 -276.8 10.7 -271.2 12.3 -265.6 13.1 -260.1 13.7 M-327 -4.7 -321.7 -5.7 -316.5 -7.6 -311.2 -9.9 -306 -11.2 -300.7 -11 -295.4 -9.7 -290.2 -8.3 -284.9 -8.2 -279.6 -9.6 -274.4 -11.2 -269.1 -12 -263.9 -12.6 M-324.4 -41.2 -319.5 -39 -314.6 -37 -309.6 -35.7 -304.4 -35.2 -299.2 -35.4 -294 -35.3 -288.9 -34.2 -284 -32.1 -279.1 -29.4 -274.2 -27.4 -269.1 -26.3 -264.1 -25.3 M-322.9 -51.9 -317.5 -52.6 -312.1 -53.3 -306.8 -53.2 -301.8 -51.7 -296.8 -49.5 -291.7 -47.8 -286.5 -47.7 -281 -48.8 -275.5 -50.1 -270.2 -50.6 -264.9 -50.2 -259.7 -49.7 M-315.1 -87.5 -310.4 -85 -305.9 -81.8 -301.4 -78.4 -296.8 -75.7 -291.8 -74.2 -286.5 -73.6 -281.2 -73.1 -276.3 -71.5 -271.7 -68.6 -267.1 -65.6 -262.3 -63.3 -257.5 -61.3 M-312.4 -96.7 -307 -96.3 -301.3 -96.6 -295.5 -97.4 -289.9 -97.3 -284.8 -95.7 -280 -93.2 -275.2 -90.5 -270.1 -89.1 -264.5 -89 -259 -89.1 -253.6 -88.3 -248.3 -87.3 M-299.4 -131.6 -294.8 -128.3 -290.6 -124 -286.6 -119.4 -282.1 -115.8 -276.9 -113.7 -271.3 -112.6 -265.7 -111.4 -260.6 -109.2 -256.1 -105.6 -251.7 -101.9 -247 -98.8 -242.2 -96 M-295.5 -140.1 -290 -138.7 -284.1 -138.1 -278.2 -137.4 -272.6 -136.1 -267.6 -133.6 -262.9 -130.5 -258.1 -127.5 -252.9 -125.2 -247.3 -124.1 -241.5 -123.3 -236 -121.7 -230.7 -119.9 M-277.9 -172.4 -274.2 -168.5 -270.8 -164.1 -267.2 -160 -262.9 -157 -258 -155 -253.1 -153 -248.6 -150.2 -244.7 -146.6 -241.4 -142.1 -237.7 -138.1 -233.6 -134.8 -229.4 -131.7 M-272.3 -181.2 -267.2 -179.5 -261.9 -178.1 -256.8 -176.4 -252.4 -173.5 -248.6 -169.8 -244.8 -166.2 -240.3 -163.5 -235.1 -162 -229.7 -160.7 -224.5 -159.1 -219.8 -156.8 -215.2 -154.3 M-250.1 -210.7 -246.8 -206.6 -244.1 -201.8 -241.7 -196.7 -238.6 -192.3 -234.5 -189.1 -229.8 -186.7 -225.3 -184 -221.3 -180.7 -218.2 -176.4 -215.3 -171.8 -212 -167.7 -208.5 -163.9 M-244.2 -217.6 -239.2 -214.5 -233.5 -212.3 -227.5 -210.6 -222.1 -208.1 -217.8 -204.3 -214.3 -199.6 -210.9 -194.8 -206.8 -190.7 -201.7 -187.9 -196.4 -185.3 -191.4 -182.3 -186.7 -179 M-218.2 -243.6 -215.5 -238.4 -212.8 -233.2 -209.6 -228.5 -205.7 -224.3 -201.3 -220.6 -197.1 -216.6 -193.6 -212.1 -190.8 -207 -188.6 -201.4 -185.9 -196.2 -182.5 -191.6 -178.9 -187.1 M-210.1 -250.6 -205.4 -247.3 -200.5 -244.1 -196.2 -240.5 -193 -235.9 -190.4 -230.8 -187.4 -226 -183.3 -222.1 -178.1 -219.2 -172.8 -216.4 -168.1 -213.1 -164.1 -209.2 -160.3 -205.1 M-181.4 -272.1 -179.5 -266.5 -177.4 -261.1 -174.5 -256.2 -170.9 -251.7 -167 -247.3 -163.7 -242.6 -161.5 -237.2 -159.9 -231.4 -158.5 -225.5 -156.4 -220.1 -153.6 -215.1 -150.6 -210.2 M-172.1 -278.1 -168.1 -274.5 -164.2 -270.8 -160.8 -266.8 -158.6 -262 -156.8 -257 -154.4 -252.3 -150.8 -248.5 -146.3 -245.2 -141.8 -241.9 -138 -238.1 -134.9 -233.9 -132 -229.6 M-140.5 -295.3 -139.5 -289.7 -138.6 -284 -137.1 -278.6 -134.8 -273.6 -131.7 -268.9 -128.8 -264.1 -126.8 -258.9 -125.7 -253.3 -125.1 -247.5 -124.2 -241.9 -122.4 -236.6 -120.4 -231.4 M-131.1 -299.6 -127.7 -295.2 -124 -290.9 -120.7 -286.4 -118.4 -281.4 -116.8 -276.1 -115.2 -270.9 -112.5 -266.1 -109.1 -261.7 -105.1 -257.5 -101.5 -253.2 -98.7 -248.4 -96.1 -243.6 M-97.4 -312.2 -97.2 -306.4 -97 -300.6 -96.1 -294.9 -94 -289.7 -91.3 -284.6 -89.3 -279.3 -88.6 -273.6 -89 -267.6 -89.3 -261.6 -88.8 -255.8 -87.6 -250.3 -86.1 -244.9 M-86.8 -315.3 -83.9 -310.3 -81.2 -305.3 -79.5 -299.9 -78.8 -294.3 -78.4 -288.5 -77.2 -283 -74.5 -278 -70.7 -273.3 -67 -268.5 -64.3 -263.4 -62.4 -258.1 -60.7 -252.8 M-51.8 -322.9 -52.4 -317.2 -53.2 -311.4 -53.4 -305.7 -52.2 -300.2 -50.3 -294.8 -48.6 -289.4 -48.3 -283.7 -49.1 -277.9 -50.2 -272.1 -50.8 -266.4 -50.4 -260.7 -49.9 -255.1 M-41.3 -324.4 -39.1 -319.2 -36.9 -314 -35.6 -308.7 -35.4 -303.2 -36 -297.6 -36.2 -292.1 -34.9 -286.7 -32.3 -281.6 -29.5 -276.5 -27.4 -271.3 -26.2 -265.9 -25.2 -260.6 M-5.1 -327 -6.4 -321.8 -8.4 -316.5 -10.2 -311.3 -10.7 -306 -9.7 -300.8 -8.2 -295.6 -7.3 -290.3 -8.1 -285.1 -9.9 -279.8 -11.4 -274.6 -12 -269.4 -12.4 -264.1 M5.1 -327 6.4 -321.5 8.1 -316.1 9.6 -310.6 10 -305.2 9.2 -299.7 8.2 -294.2 7.8 -288.8 8.6 -283.3 10.4 -277.9 11.9 -272.4 12.5 -266.9 12.9 -261.5 M41.3 -324.4 39.1 -319 36.9 -313.5 35.2 -308 34.6 -302.3 34.6 -296.5 34.3 -290.8 32.7 -285.3 30.2 -279.9 27.5 -274.5 25.4 -269.1 24.1 -263.5 23 -257.9 M51.8 -322.9 52.4 -317.5 53.4 -312 53.7 -306.6 52.7 -301.4 50.8 -296.4 49.1 -291.3 48.5 -286 49 -280.6 50.2 -275.1 50.7 -269.6 50.5 -264.3 50 -259.1 M87.8 -315 85.4 -309.9 82 -305.1 78 -300.5 74.7 -295.6 73 -290.3 72.5 -284.7 72.2 -279 71.1 -273.5 68.5 -268.5 65.5 -263.6 63 -258.5 60.8 -253.3 M96.4 -312.5 95.7 -307.1 96 -301.3 96.5 -295.6 96.5 -289.9 95 -284.7 92.4 -279.9 89.4 -275.1 87.4 -270.1 86.9 -264.6 86.9 -259 86.2 -253.5 85.3 -248.1 M131.5 -299.4 128.2 -294.7 124.2 -290.3 120.4 -285.8 117.4 -281 115.6 -275.6 114.3 -270 112.2 -264.7 109.1 -259.9 105.3 -255.4 101.5 -250.9 98.4 -246.1 95.6 -241.2 M140.1 -295.5 138.7 -289.8 138.2 -283.8 137.9 -277.7 136.6 -272 133.8 -267 130.2 -262.3 126.8 -257.6 124.4 -252.4 123.3 -246.6 122.4 -240.8 120.8 -235.2 118.9 -229.8 M172.1 -278.1 167.9 -274 163.8 -269.8 160.7 -265 158.5 -259.7 156.5 -254.1 153.8 -249 149.7 -244.9 144.4 -241.5 139.3 -237.9 135.2 -233.7 131.9 -229.1 128.6 -224.4 M181.4 -272.1 179.6 -266.6 177.5 -261.2 174.8 -256.2 171.6 -251.5 168 -247 164.7 -242.4 161.9 -237.5 160.2 -231.9 158.8 -226 156.7 -220.6 153.9 -215.7 151 -210.9 M210.6 -250.2 206.3 -247 201.5 -244.3 196.4 -241.7 192.2 -238.4 189.2 -234.1 186.9 -229.2 184.3 -224.6 180.9 -220.6 176.4 -217.6 171.7 -214.7 167.7 -211.3 163.8 -207.7 M217.7 -244 214.9 -239.2 212.9 -233.7 210.7 -228.2 207.6 -223.7 203.2 -220.2 198.3 -217.2 194 -213.6 190.9 -209 188.6 -203.8 186.2 -198.6 183.2 -193.9 180 -189.3 M243.7 -218.1 238.7 -215.7 233.7 -213.4 229 -210.7 225.2 -206.9 222 -202.5 218.6 -198.3 214.4 -195 209.4 -192.7 204.1 -190.7 199.2 -188.2 194.8 -185.1 190.6 -181.8 M250.6 -210.1 247.3 -205.4 244 -200.7 240 -196.6 235.6 -193.1 230.9 -190.1 226.3 -186.8 222.4 -182.7 219.1 -178 216.1 -172.9 212.8 -168.2 208.9 -164.1 204.8 -160.2 M272.5 -180.8 267.5 -179 262 -178.1 256.4 -177.1 251.6 -175.1 247.6 -171.7 244 -167.7 240 -164.3 235.5 -161.8 230.3 -160.2 225.1 -158.8 220.3 -156.6 215.7 -154.3 M277.7 -172.7 273.8 -168.9 270.3 -164.4 266.7 -160 262.5 -156.7 257.4 -154.7 252.1 -153 247.2 -150.6 243.1 -147.2 239.4 -142.9 235.7 -138.7 231.6 -135.1 227.4 -131.8 M295.2 -140.8 289.7 -139.8 284.2 -138.8 278.9 -137.4 274.1 -135 269.5 -132 264.7 -129.4 259.5 -127.8 254 -127 248.2 -126.5 242.8 -125.4 237.7 -123.6 232.7 -121.5 M299.7 -130.9 295.5 -127.5 291.2 -124.1 286.7 -121.5 281.8 -119.5 276.7 -118 271.7 -116.2 267.1 -113.6 262.9 -110.2 259 -106.2 254.7 -102.9 250.1 -100.3 245.4 -97.9 M312.4 -96.8 306.7 -96.3 300.6 -96.7 294.6 -97.3 288.9 -96.7 283.6 -94.5 278.6 -91.6 273.5 -89.1 268 -87.7 262.2 -87.6 256.3 -87.5 250.7 -86.7 245.1 -85.6 M315.1 -87.5 310 -84.8 305.2 -81.3 300.4 -77.8 295.2 -75.5 289.6 -74.6 283.8 -74.3 278.2 -73.3 273 -71.3 268 -68.3 263.1 -65.1 257.9 -62.8 252.6 -60.7 M322.9 -52 317.4 -52.7 311.9 -53.3 306.5 -53.3 301.2 -52.2 296.1 -50.5 290.8 -49.4 285.4 -49.6 279.8 -50.6 274.2 -51.8 268.8 -52.2 263.4 -51.7 258.1 -51.1 M324.5 -41 319 -38.8 313.5 -36.8 308 -35.2 302.3 -34.8 296.5 -34.8 290.8 -34.3 285.3 -32.7 279.9 -30.3 274.5 -27.4 269 -25.5 263.4 -24.4 257.8 -23.4 M202.7 11.5 207.2 11 211.7 9.7 216.3 8.3 220.7 8.2 225.1 9.6 229.4 11.9 233.7 13.8 238.1 14.2 242.6 13.4 247.2 12.3 251.6 11.7 256.1 11.5 M202.3 17.5 207 18.6 211.6 20.6 216.2 22.7 220.9 23.8 225.7 23.2 230.5 21.6 235.4 20.3 240.2 20.2 244.8 21.5 249.5 23.3 254.2 24.5 258.9 25.4 M199.2 39.3 203.9 39 208.6 38.9 213 40 217.1 42.4 221.2 45.2 225.4 47.2 229.9 47.6 234.8 46.6 239.7 45.4 244.4 45.3 248.9 45.9 253.4 46.7 M197.5 47 201.5 49.2 205.5 51.2 209.7 52.2 214.2 51.9 218.9 51.1 223.4 50.9 227.6 52 231.5 54.3 235.4 57.1 239.4 59.1 243.5 60.3 247.8 61.4 M191.6 67.3 196.2 67.7 200.9 68.2 205.2 69.6 209.1 72 212.8 75 216.7 77.5 221 78.9 225.7 79.2 230.6 79.1 235.3 79.6 239.6 80.8 243.9 82.2 M188.8 74.6 192.7 77.4 196.5 80.1 200.7 82 205.4 82.5 210.3 82.3 215.1 82.6 219.3 84.2 223.1 87.1 226.8 90.4 230.7 93.1 234.8 95 239 96.8 M179.9 94.1 184.3 95.2 188.8 96 192.9 97.5 196.4 100.2 199.4 103.9 202.4 107.5 206 109.9 210.3 111.1 214.9 111.7 219.4 112.6 223.5 114.2 227.5 116 M176.4 100.4 179.7 103.6 182.9 107 186.4 109.8 190.6 111.4 195.3 112 199.9 112.7 204 114.5 207.3 117.7 210.3 121.4 213.5 124.7 217.1 127.3 220.8 129.7 M164.7 118.7 169 120.4 173.4 121.9 177.2 124.1 180.2 127.5 182.6 131.7 185.1 135.8 188.4 138.7 192.6 140.4 197.3 141.6 201.6 143.2 205.5 145.4 209.2 147.8 M160.3 124.6 163.2 128.3 166.1 132.2 169.5 135.2 173.7 137.2 178.3 138.6 182.8 140.2 186.6 142.8 189.7 146.4 192.3 150.5 195.2 154.3 198.5 157.5 202 160.4 M145.9 141.2 149.8 143.7 154.2 145.7 158.5 147.8 161.7 151 163.9 155.2 165.7 159.9 168 164 171.2 167.2 175.4 169.4 179.6 171.6 183.4 174.3 186.9 177.1 M141.2 145.9 143.8 149.9 146 154.4 148.5 158.5 152 161.7 156.4 163.9 161.1 165.9 165 168.6 167.9 172.4 170 176.9 172.3 181.3 175.1 185.1 178 188.8 M124.3 160.5 127.9 163.7 132.1 166.5 136.1 169.4 139 173.1 140.8 177.7 142.2 182.5 144.3 186.8 147.6 190.3 151.7 193.2 155.7 196.1 159.1 199.4 162.3 202.9 M119 164.5 121 168.9 122.5 173.6 124.5 178.1 127.3 181.9 130.9 185.1 134.8 188 138.2 191.4 140.8 195.4 142.5 200 144.2 204.6 146.4 208.8 148.9 212.9 M100.5 176.4 103.7 179.7 107 182.9 109.7 186.4 111.3 190.5 112 195.1 112.7 199.7 114.4 203.8 117.2 207.2 120.8 210.3 124.1 213.5 126.7 217.1 129.1 220.8 M94.1 179.9 95.2 184.5 96.1 189.2 97.8 193.5 100.6 197.1 104.3 200.3 107.9 203.5 110.5 207.3 111.8 211.8 112.5 216.6 113.5 221.2 115.2 225.5 117.1 229.7 M73.9 189.1 76.3 193.1 79.5 196.7 82.6 200.5 84.5 204.6 84.9 209.4 84.7 214.3 85.1 219.1 86.8 223.3 89.6 227.1 92.5 230.9 94.9 234.9 97 239 M68 191.3 68.7 195.8 68.7 200.6 68.9 205.3 70.2 209.6 73 213.3 76.5 216.8 79.4 220.5 81 224.6 81.5 229.2 81.6 233.9 82.5 238.4 83.5 242.8 M46.2 197.7 48.1 202.1 50.7 206.3 53.1 210.5 54.4 215 54.3 219.8 53.6 224.8 53.5 229.6 54.7 234.1 57 238.4 59.4 242.7 61.2 247 62.7 251.5 M40.1 199 40.1 203.5 39.4 208.1 38.7 212.7 39.2 217 41.2 221 43.9 224.9 46.3 228.8 47.4 233 47.2 237.5 46.7 242.1 46.8 246.5 47.2 250.9 M17.9 202.2 19.3 206.5 21.2 210.8 22.5 215 22.5 219.4 21.3 223.9 19.9 228.4 19.5 232.8 20.4 237.1 22.2 241.3 24 245.6 25 249.9 25.7 254.2 M11.1 202.7 10.3 207.3 9 211.9 8.1 216.5 8.7 221 10.6 225.4 12.9 229.8 14.2 234.2 14.1 238.8 12.9 243.4 11.8 248 11.4 252.6 11.3 257.1 M-10.6 202.8 -9.6 207.5 -8.8 212.2 -9.2 216.9 -10.8 221.5 -12.9 226 -14.4 230.5 -14.6 235.2 -13.5 240 -12 244.7 -11.2 249.5 -11.2 254.1 -11.3 258.8 M-18.4 202.2 -20 206.7 -21.5 211.2 -21.7 215.8 -20.6 220.5 -19.3 225.2 -18.6 229.9 -19.5 234.5 -21.5 238.9 -23.6 243.4 -25.1 247.9 -25.8 252.5 -26.3 257.1 M-39.7 199.1 -39.5 204.1 -39.1 209.2 -39.5 214.1 -41.2 218.8 -43.8 223.2 -46.3 227.7 -47.6 232.4 -47.5 237.4 -46.8 242.5 -46.5 247.6 -46.9 252.5 -47.6 257.4 M-46.6 197.6 -48.8 201.8 -51.2 206 -52.9 210.3 -53.2 214.9 -52.4 219.8 -51.6 224.6 -52.1 229.2 -54.1 233.4 -56.9 237.5 -59.2 241.7 -60.8 246 -62.1 250.4 M-67.3 191.6 -67.7 196.3 -68.1 201 -69.2 205.4 -71.6 209.4 -74.7 213.1 -77.3 217 -78.7 221.3 -79 226.1 -78.9 231 -79.4 235.7 -80.7 240.1 -82.1 244.4 M-74.6 188.8 -77.4 192.7 -80.1 196.7 -81.8 201 -82.1 205.8 -81.8 210.8 -82.1 215.7 -83.9 219.9 -87.1 223.7 -90.7 227.3 -93.4 231.2 -95.4 235.4 -97.2 239.7 M-94.5 179.7 -95.9 184 -96.5 188.7 -97.4 193.3 -99.3 197.3 -102.5 200.7 -106.2 203.7 -109.6 206.9 -111.8 210.8 -112.9 215.2 -113.8 219.8 -115.2 224.1 -116.8 228.3 M-100 176.7 -102.9 180 -106.5 183 -109.9 186.1 -112.4 189.7 -113.6 194 -114.1 198.6 -115 203.1 -117 206.9 -120.1 210.2 -123.5 213.3 -126.2 216.7 -128.8 220.2 M-118.9 164.6 -120.8 169.1 -122.4 173.8 -124.5 178 -127.8 181.5 -131.9 184.3 -136 187.1 -139.3 190.5 -141.4 194.8 -142.9 199.6 -144.6 204.2 -146.9 208.4 -149.4 212.4 M-124.4 160.4 -128.3 163.6 -132.4 166.5 -136.1 169.7 -138.9 173.7 -140.7 178.4 -142.3 183.1 -144.8 187.3 -148.4 190.7 -152.5 193.6 -156.5 196.6 -159.9 200.1 -163.1 203.7 M-140.8 146.3 -143.1 150.4 -145.5 154.4 -148.7 157.6 -152.8 159.9 -157.2 161.8 -161.2 164.2 -164.1 167.7 -166 172.2 -167.8 176.8 -170.1 180.8 -173.1 184.3 -176.1 187.6 M-146.3 140.8 -150.7 143.3 -155 146 -158.6 149.2 -161.3 153.5 -163.5 158.2 -166.2 162.5 -169.9 165.7 -174.6 167.9 -179.4 170 -183.6 172.7 -187.4 175.9 -191 179.2 M-160.4 124.4 -163.5 128.2 -166.3 132.2 -169.4 135.7 -173.5 138.1 -178.3 139.5 -183.1 140.8 -187.3 143 -190.5 146.5 -193.2 150.7 -196.1 154.6 -199.4 157.9 -202.9 161 M-164.6 118.9 -169 120.7 -173.7 122.3 -178 124.3 -181.4 127.4 -184.1 131.6 -186.7 135.8 -190 139.2 -194.1 141.5 -198.7 143 -203.3 144.7 -207.4 146.9 -211.4 149.4 M-176.7 100.1 -180.3 103.1 -183.5 106.9 -186.8 110.5 -190.7 113 -195.4 114.1 -200.5 114.5 -205.3 115.3 -209.4 117.4 -212.9 120.7 -216.3 124.2 -220 127.1 -223.8 129.8 M-179.7 94.5 -184 95.8 -188.7 96.4 -193.3 97 -197.4 98.8 -200.7 101.9 -203.7 105.6 -206.9 108.8 -210.9 110.8 -215.3 111.8 -219.8 112.6 -224.1 114 -228.2 115.7 M-188.9 74.5 -192.8 77.3 -196.6 80.1 -200.9 81.8 -205.7 82.2 -210.7 81.9 -215.6 82 -219.9 83.6 -223.7 86.7 -227.4 90.2 -231.2 92.9 -235.4 95 -239.6 96.8 M-191.5 67.4 -196.1 67.7 -200.6 68.1 -204.8 69.4 -208.4 72 -211.8 75.4 -215.4 78.4 -219.5 79.9 -224.1 80.1 -228.8 79.8 -233.4 80.1 -237.6 81.2 -241.8 82.5 M-197.6 46.5 -202.1 48.5 -206.4 51.1 -210.8 53 -215.5 53.7 -220.5 53.2 -225.5 52.5 -230.3 52.7 -234.9 54.2 -239.2 56.6 -243.5 59 -248 60.7 -252.6 62.2 M-199.1 39.8 -203.7 39.7 -208.5 39.1 -213.1 39.2 -217.5 40.6 -221.6 43 -225.6 45.6 -229.9 47.2 -234.5 47.2 -239.3 46.5 -244.1 46 -248.6 46.3 -253.2 46.8 M-202.2 18 -206.7 19.6 -211.2 21.4 -215.7 22.3 -220.3 22 -225 20.6 -229.7 19.3 -234.3 19.3 -238.7 20.9 -243.2 23.1 -247.6 24.8 -252.2 25.7 -256.7 26.4 M-202.7 10.9 -207.6 10.1 -212.5 8.9 -217.3 8.6 -222.1 9.7 -226.7 11.9 -231.4 14.1 -236.1 15 -241 14.4 -245.9 13 -250.8 12 -255.6 11.8 -260.4 11.7 M-202.7 -11.3 -207.2 -10.6 -211.8 -9.3 -216.3 -8.4 -220.7 -8.8 -225 -10.7 -229.3 -13.1 -233.6 -14.7 -238.1 -14.8 -242.6 -13.6 -247.2 -12.5 -251.6 -12 -256.1 -11.8 M-202.3 -17.7 -207.1 -19 -211.8 -21 -216.6 -22.6 -221.5 -22.9 -226.5 -21.9 -231.5 -20.3 -236.5 -19.4 -241.4 -20 -246.2 -21.6 -251 -23.4 -255.8 -24.5 -260.6 -25.4 M-199.1 -39.6 -203.9 -39.4 -208.6 -39 -213.2 -39.5 -217.5 -41.2 -221.7 -43.3 -225.9 -45.2 -230.4 -46.3 -235 -46.4 -239.8 -45.7 -244.6 -45.4 -249.2 -45.8 -253.7 -46.5 M-197.6 -46.7 -202 -48.9 -206.3 -51.4 -210.8 -53.1 -215.6 -53.4 -220.6 -52.5 -225.7 -51.8 -230.4 -52.2 -234.9 -54.1 -239.1 -56.8 -243.5 -59.1 -248 -60.6 -252.6 -62 M-191.5 -67.4 -196.6 -68 -201.6 -68.4 -206.4 -69.7 -210.7 -72.3 -214.6 -75.7 -218.7 -78.9 -223.2 -81 -228.1 -81.8 -233.3 -81.8 -238.4 -82.4 -243.1 -83.6 -247.8 -85.1 M-188.9 -74.4 -192.8 -77.2 -196.7 -80.1 -200.9 -82.2 -205.5 -83 -210.5 -83 -215.4 -83.3 -219.8 -84.8 -223.7 -87.5 -227.5 -90.8 -231.4 -93.6 -235.6 -95.7 -239.8 -97.6 M-180 -93.9 -184.8 -95.1 -189.7 -96.3 -194 -98.4 -197.7 -101.8 -201 -105.8 -204.5 -109.4 -208.8 -111.7 -213.7 -112.7 -218.8 -113.4 -223.6 -114.6 -228.1 -116.6 -232.4 -118.7 M-176.3 -100.6 -179.9 -104 -183.5 -107.4 -187.6 -110 -192.2 -111.5 -197.2 -112.3 -202 -113.5 -206.1 -116 -209.4 -119.8 -212.7 -123.8 -216.3 -127.2 -220.3 -129.8 -224.4 -132.3 M-164.6 -118.8 -169.2 -120.7 -174 -122.4 -178.3 -124.5 -181.9 -127.8 -184.6 -132.1 -187.4 -136.5 -190.8 -140 -195 -142.3 -199.8 -143.9 -204.5 -145.7 -208.7 -148.1 -212.8 -150.7 M-160.4 -124.5 -163.6 -128.4 -166.6 -132.5 -170 -136 -174.2 -138.5 -179.1 -140.1 -184.1 -141.7 -188.4 -144.1 -191.9 -147.5 -194.8 -151.8 -197.9 -155.8 -201.4 -159.2 -205.1 -162.4 M-145.9 -141.2 -149.7 -143.5 -154 -145.4 -158 -147.5 -161 -150.6 -163.1 -154.8 -164.8 -159.1 -167.2 -162.9 -170.6 -165.6 -174.7 -167.7 -178.8 -169.7 -182.4 -172.3 -185.8 -175 M-141.2 -145.9 -143.6 -149.8 -145.7 -154.1 -148 -158.1 -151.3 -161.2 -155.5 -163.3 -160 -165.2 -164 -167.6 -166.9 -171 -169.1 -175.2 -171.2 -179.4 -173.9 -183.1 -176.7 -186.6 M-124.3 -160.6 -127.7 -163.5 -131.6 -166 -135.1 -168.8 -137.6 -172.4 -139.1 -176.7 -140.2 -181.3 -141.9 -185.5 -144.6 -188.9 -148.3 -191.6 -152.1 -194.2 -155.3 -197.3 -158.3 -200.5 M-119.1 -164.5 -120.9 -168.6 -122.2 -173.1 -123.8 -177.3 -126.6 -180.7 -130.5 -183.3 -134.7 -185.5 -138.3 -188.3 -140.6 -192.1 -142 -196.5 -143.4 -200.9 -145.5 -204.9 -147.7 -208.7 M-100.1 -176.6 -103.2 -180.4 -107 -183.9 -110.6 -187.5 -113 -191.6 -114.1 -196.5 -114.8 -201.7 -116.1 -206.5 -118.7 -210.6 -122.2 -214.2 -125.8 -217.7 -128.8 -221.6 -131.6 -225.6 M-94.5 -179.7 -95.8 -184.2 -96.6 -189 -97.6 -193.6 -99.8 -197.6 -103.3 -200.9 -107.2 -203.9 -110.6 -207.3 -112.6 -211.4 -113.7 -216 -114.6 -220.7 -116.1 -225.1 -117.8 -229.4 M-74.3 -188.9 -77.1 -192.7 -80 -196.4 -82 -200.5 -82.7 -205 -82.6 -209.8 -82.8 -214.6 -84.3 -218.8 -87.3 -222.5 -90.9 -225.9 -93.8 -229.7 -95.9 -233.7 -97.8 -237.8 M-67.5 -191.5 -68 -196.2 -68.3 -201 -69.4 -205.5 -71.5 -209.6 -74.4 -213.4 -77.2 -217.3 -78.9 -221.5 -79.7 -226.1 -79.7 -231 -80.1 -235.8 -81.1 -240.3 -82.4 -244.7 M-46.1 -197.7 -47.8 -201.9 -50.5 -205.8 -53.1 -209.8 -54.6 -214 -54.5 -218.6 -53.5 -223.3 -52.8 -228 -53.4 -232.4 -55.2 -236.5 -57.6 -240.6 -59.3 -244.7 -60.9 -248.9 M-40.2 -199 -40.5 -203.8 -39.8 -208.9 -39.2 -213.9 -39.5 -218.7 -41.3 -223.2 -44.1 -227.5 -46.7 -231.8 -48.2 -236.3 -48.3 -241.2 -47.9 -246.2 -48.1 -251 -48.5 -255.8 M-17.7 -202.3 -19 -207.1 -21 -211.8 -22.6 -216.6 -22.9 -221.5 -21.7 -226.5 -20 -231.5 -19 -236.5 -19.6 -241.4 -21.3 -246.1 -23.1 -250.9 -24.2 -255.7 -25.1 -260.6 M-11.3 -202.7 -10.7 -207.6 -9.4 -212.5 -8.3 -217.3 -8.4 -222.1 -10 -226.8 -12.2 -231.5 -13.6 -236.2 -13.5 -241 -12.4 -245.9 -11.3 -250.8 -10.9 -255.6 -10.7 -260.4 M10.7 -202.8 9.7 -207.6 8.8 -212.5 8.8 -217.3 10.1 -222 12.3 -226.6 13.9 -231.3 14 -236.1 12.6 -241 10.8 -245.9 9.9 -250.7 9.8 -255.5 10 -260.3 M18.3 -202.2 19.9 -206.7 21.5 -211.1 22.1 -215.7 21.3 -220.3 19.7 -225 18.7 -229.7 19.2 -234.2 21.2 -238.6 23.6 -243 25.2 -247.5 25.9 -252 26.4 -256.6 M40.2 -199 40.4 -203.7 39.8 -208.7 39.1 -213.6 39.5 -218.3 41.5 -222.6 44.4 -226.8 46.9 -231 48.2 -235.5 48.3 -240.3 47.9 -245.1 48 -249.9 48.5 -254.6 M46.1 -197.7 47.9 -202.2 50.5 -206.4 53.2 -210.6 54.9 -215.1 55.1 -219.9 54.4 -224.9 54.1 -229.8 55.1 -234.4 57.1 -238.8 59.5 -243.1 61.4 -247.5 62.9 -252 M67.8 -191.4 68.4 -196 68.4 -200.7 68.7 -205.4 70 -209.7 72.7 -213.6 75.7 -217.2 78.2 -221.1 79.5 -225.4 79.7 -230.1 80 -234.8 80.9 -239.3 82 -243.7 M74.1 -189 76.7 -192.9 79.8 -196.6 82.6 -200.4 84 -204.6 84.3 -209.4 84.2 -214.3 84.9 -218.8 87.2 -222.8 90.2 -226.5 93.2 -230.2 95.4 -234.2 97.4 -238.3 M94.2 -179.9 95.4 -184.6 96.3 -189.5 97.7 -194.1 100.5 -198 104.3 -201.3 108.2 -204.5 111.1 -208.3 112.8 -212.8 113.7 -217.7 114.7 -222.5 116.4 -227 118.4 -231.3 M100.4 -176.5 103.6 -179.9 107.2 -183.1 110.2 -186.6 111.9 -190.9 112.5 -195.7 113.1 -200.5 114.8 -204.8 117.7 -208.4 121.3 -211.6 124.7 -214.9 127.4 -218.6 129.9 -222.4 M118.9 -164.5 120.8 -168.8 122.2 -173.4 124.2 -177.5 127.2 -180.9 131 -183.8 134.9 -186.5 138.1 -189.7 140.5 -193.6 142 -198.1 143.6 -202.6 145.7 -206.6 148.1 -210.5 M124.4 -160.5 128.2 -163.7 132.3 -166.6 136 -169.9 138.7 -174 140.5 -178.7 142 -183.6 144.2 -188 147.4 -191.7 151.5 -194.7 155.5 -197.7 159 -201.1 162.3 -204.8 M140.7 -146.4 143.1 -150.5 145.5 -154.5 148.7 -157.8 152.7 -160.3 157.1 -162.4 161 -165 163.8 -168.7 165.8 -173.2 167.7 -177.8 170.2 -181.7 173.2 -185.2 176.4 -188.5 M146.4 -140.7 150.6 -143.2 154.7 -145.8 158 -149.2 160.3 -153.6 162.2 -158.4 164.7 -162.6 168.3 -165.7 172.9 -167.8 177.7 -169.8 181.8 -172.4 185.3 -175.6 188.8 -178.9 M160.1 -124.8 163 -128.6 166 -132.1 169.6 -134.8 174.1 -136.3 179 -137.3 183.5 -138.9 186.9 -141.9 189.5 -146 191.8 -150.4 194.8 -154 198.2 -157 201.7 -159.8 M164.9 -118.5 169.2 -120.1 173.4 -121.9 176.9 -124.5 179.7 -128.2 182.1 -132.3 185 -135.9 188.8 -138.1 193.5 -139.3 198.2 -140.4 202.4 -142.2 206.1 -144.6 209.7 -147.1 M176.6 -100.1 180.3 -103.2 183.6 -106.9 187.1 -110.2 191.2 -112.6 195.9 -113.8 200.8 -114.7 205.3 -116.2 209.2 -118.9 212.6 -122.3 216 -125.8 219.8 -128.8 223.7 -131.5 M179.7 -94.5 184.2 -95.9 189.1 -96.6 193.9 -97.5 198 -99.5 201.4 -102.9 204.6 -106.9 208.1 -110.1 212.3 -112.1 217 -113 221.8 -114 226.2 -115.5 230.5 -117.2 M188.9 -74.4 192.8 -77.2 196.6 -80.1 200.7 -82.2 205.3 -83.1 210.2 -83.2 215 -83.4 219.3 -84.9 223.2 -87.7 226.9 -90.9 230.8 -93.7 234.9 -95.8 239.1 -97.7 M191.5 -67.5 196.1 -67.9 200.8 -68.2 205.1 -69.3 209 -71.7 212.6 -74.8 216.3 -77.7 220.4 -79.4 225.1 -79.7 229.9 -79.6 234.5 -80 238.9 -81 243.2 -82.3 M197.7 -46.1 202.1 -47.9 206.4 -50.5 210.6 -53.1 215.1 -54.6 219.9 -54.6 224.9 -53.8 229.8 -53.5 234.4 -54.4 238.8 -56.4 243 -58.8 247.5 -60.6 251.9 -62.2 M199 -40.2 203.9 -40.5 209.1 -39.9 214.2 -39.3 219 -40 223.5 -42.2 227.8 -45.3 232.3 -47.8 237 -49 242 -48.8 247.1 -48.4 252.1 -48.7 257 -49.1 M202.2 -18.2 206.6 -19.8 211 -21.4 215.5 -22 220.1 -21.2 224.7 -19.9 229.3 -19.1 233.8 -19.6 238.2 -21.4 242.6 -23.5 247 -25.1 251.5 -25.9 256 -26.4 M202.8 -10.7 207.7 -9.8 212.6 -8.9 217.4 -9 222.2 -10.6 226.9 -12.9 231.6 -14.8 236.4 -15.2 241.3 -14.2 246.3 -12.7 251.2 -11.8 256.1 -11.7 260.9 -11.7"/>
<path stroke="#1e279a" stroke-width="2.6" d="M327 -5.2 321.4 -6.5 315.8 -8.1 310.2 -9 304.6 -9 299 -8 293.4 -7.2 287.8 -7.2 282.2 -8.3 276.6 -10.1 271 -11.6 265.4 -12.2 259.8 -12.5 M327 5.2 321.8 6.5 316.6 8.1 311.4 9.1 306.2 9.2 301 8.4 295.8 7.8 290.6 7.9 285.4 9 280.2 10.9 275 12.3 269.8 12.9 264.6 13.2 M324.4 41.2 319 39 313.6 36.6 308.1 35 302.3 34.8 296.5 35.4 290.7 35.6 285.1 34.3 279.8 31.7 274.4 28.9 269 26.8 263.4 25.6 257.8 24.5 M322.9 51.9 317.4 52.5 311.9 53.1 306.6 53 301.4 51.5 296.3 49.3 291.2 47.7 285.8 47.5 280.2 48.7 274.6 50.1 269.2 50.6 263.8 50.3 258.5 49.8 M315.2 87.2 310.1 84.4 305.2 80.9 300.2 77.6 294.8 75.7 289.1 75.1 283.2 74.7 277.6 73.8 272.3 71.4 267.4 68.1 262.3 65 257 62.8 251.7 60.8 M312.3 97 306.7 96.7 300.9 96.7 295.4 96 290.1 94.3 285.1 91.8 280.1 89.4 274.8 87.9 269.2 87.3 263.4 87.5 257.7 87.3 252.2 86.4 246.8 85.2 M299.5 131.3 295.2 127.9 291 124.1 286.6 120.8 281.9 118.1 276.8 116.4 271.6 114.8 266.7 112.6 262.2 109.6 258 105.8 253.8 102.2 249.2 99.3 244.4 96.7 M295.4 140.4 289.8 139.3 283.9 138.9 278.1 138.2 272.8 136.2 268.2 133 263.7 129.5 258.9 126.7 253.5 125.1 247.7 124.4 242 123.4 236.7 121.8 231.4 119.8 M277.9 172.4 274.3 168.4 270.8 164.4 266.9 160.8 262.5 158.1 257.6 156.1 252.9 153.8 248.9 150.6 245.4 146.4 242.1 142 238.5 138 234.4 134.8 230.2 131.7 M272.3 181.2 266.7 179.2 261 177.5 255.6 175.3 250.9 172 246.8 167.8 242.5 163.8 237.5 161 231.8 159.2 226 157.7 220.4 155.8 215.3 153.1 210.3 150.3 M250.1 210.7 246.6 206.4 243.6 201.3 240.6 196.3 237.1 191.9 232.6 188.6 227.7 185.9 223 182.8 219.2 178.8 215.9 174.2 212.7 169.4 209.2 165.1 205.4 161 M244.1 217.6 239.5 214.8 234.2 212.6 228.9 210.5 224.3 207.6 220.6 203.6 217.4 199 213.9 194.8 209.5 191.6 204.5 189.2 199.4 186.8 194.8 184 190.3 180.9 M218 243.8 215.3 238.8 213.1 233.3 210.6 228.2 207.1 223.9 202.6 220.5 198 217.1 194.3 213 191.6 207.9 189.4 202.6 186.9 197.4 183.8 192.8 180.4 188.3 M210.3 250.4 205.9 247.4 201.3 244.5 197.1 241.3 193.8 237.4 191.2 232.7 188.6 228.1 185.1 224.3 180.6 221.5 175.7 218.8 171.2 215.9 167.3 212.4 163.6 208.8 M180.7 272.6 178.8 267.6 177.8 262.1 177.2 256.3 175.7 251.1 172.7 246.8 168.7 243.2 164.6 239.7 161.7 235.4 160 230.3 158.5 225 156.4 220.2 154.1 215.5 M172.9 277.6 169 273.4 164.4 269.7 159.7 266.1 155.6 262.1 152.7 257.3 150.5 252 148.2 246.8 145.3 242 141.1 238 136.7 234.2 133 229.9 129.5 225.5 M140.8 295.2 139.8 289.5 138.8 283.9 137 278.7 133.9 274 130.3 269.5 127.3 264.8 125.9 259.4 125.6 253.4 125.4 247.4 124.2 241.9 122.2 236.7 120.1 231.6 M130.9 299.7 127.2 295.2 123.7 290.5 120.9 285.6 118.9 280.2 117.4 274.7 115.3 269.4 111.9 264.7 107.8 260.4 103.6 256.1 100.1 251.4 97.4 246.4 94.9 241.3 M97 312.3 96.7 306.6 96.6 300.8 95.9 295.2 94.2 289.8 91.7 284.7 89.5 279.5 88.4 274 88.5 268.2 88.8 262.2 88.7 256.5 87.7 250.9 86.5 245.4 M87.3 315.2 84.5 310.4 81.4 305.6 78.9 300.8 77.2 295.6 76.5 290.2 75.9 284.8 74.6 279.5 72.3 274.6 69.1 269.9 66.1 265.1 64 260.1 62.1 255.1 M51.9 322.9 52.5 317.1 53 311.4 52.6 305.8 51.6 300.3 50.2 294.8 49.1 289.3 48.9 283.7 49.5 277.9 50.7 272.1 51.1 266.3 50.7 260.7 50.1 255.2 M41.1 324.4 39 319.3 36.5 314.1 34.8 308.9 34.5 303.5 35 297.9 35.1 292.4 34.2 287 32 281.9 29.2 276.8 27.2 271.6 26.1 266.3 25.1 260.9 M5.5 327 6.9 321.8 8.2 316.6 8.7 311.4 8 306.2 6.9 301 6.5 295.8 7.6 290.6 9.8 285.4 11.8 280.2 13 275 13.3 269.8 13.4 264.6 M-5.5 327 -6.9 321.7 -8.1 316.4 -8.3 311 -7.3 305.7 -6 300.4 -5.6 295.1 -6.8 289.8 -9.1 284.4 -11.3 279.1 -12.4 273.8 -12.7 268.5 -12.9 263.2 M-42.1 324.3 -40.5 318.9 -37.5 313.6 -34 308.4 -31.6 303.1 -30.9 297.5 -31.5 291.7 -32.1 285.9 -31.7 280.3 -29.9 274.8 -27.5 269.5 -25.8 264 -24.4 258.6 M-51 323 -51 317.6 -52.1 311.9 -53.8 306.2 -54.6 300.6 -53.8 295.3 -51.8 290.1 -49.5 284.9 -48.2 279.6 -48.5 274.1 -49.2 268.5 -49.4 263.1 -49.2 257.6 M-87.3 315.2 -84.4 310.2 -81 305.5 -77.9 300.6 -76.2 295.3 -75.7 289.6 -75.3 284 -73.8 278.6 -71 273.6 -67.7 268.8 -64.7 263.9 -62.5 258.8 -60.5 253.5 M-97 312.3 -96.7 306.5 -96.6 300.6 -96.4 294.8 -95.1 289.3 -92.9 284 -90.6 278.8 -89.2 273.3 -88.6 267.6 -88.7 261.6 -88.6 255.7 -87.6 250.1 -86.4 244.6 M-131.4 299.5 -128 295.1 -124.2 290.9 -120.7 286.6 -118.2 281.8 -116.7 276.6 -115.4 271.3 -113.2 266.3 -109.9 261.9 -106.1 257.7 -102.4 253.5 -99.5 248.9 -96.8 244.2 M-140.3 295.4 -139.1 289.9 -138.4 284.2 -137.3 278.7 -135.4 273.6 -132.4 269 -129.3 264.4 -127.1 259.4 -126.2 253.8 -125.6 248 -124.7 242.4 -123.1 237.1 -121.3 232 M-172.7 277.7 -168.7 273.8 -164.2 270.1 -160.2 266.1 -156.9 261.8 -154.4 256.8 -152.2 251.7 -149.3 247 -145.7 242.8 -141.4 239.1 -137.1 235.3 -133.5 231.1 -130.1 226.7 M-180.9 272.4 -179 267.2 -177.5 261.7 -175.7 256.4 -173.2 251.5 -169.9 247.2 -166.2 243.1 -162.9 238.7 -160.3 233.9 -158.8 228.4 -157.1 223 -154.8 218 -152.3 213.2 M-210.7 250.1 -206.6 246.6 -201.7 243.8 -196.6 241.2 -192 238.1 -188.5 234.1 -185.7 229.5 -182.7 225 -179.2 221 -174.9 217.7 -170.2 214.7 -166 211.3 -162 207.7 M-217.5 244.2 -214.7 239.6 -212.7 234.3 -211.1 228.7 -209 223.5 -205.6 219.4 -201.1 216.2 -196.3 213.4 -192.5 209.7 -189.8 204.9 -187.5 199.9 -184.7 195.3 -181.8 190.9 M-244.1 217.6 -239.4 214.7 -233.9 212.6 -228 211.1 -222.7 208.8 -218.6 205.2 -215.3 200.5 -212.3 195.7 -208.4 191.8 -203.4 189.1 -198.2 186.8 -193.5 183.8 -189 180.7 M-250.1 210.7 -246.7 206.5 -244.1 201.4 -241.7 195.9 -238.6 191.3 -234.4 188 -229.5 185.5 -224.6 183 -220.4 179.7 -217.2 175.2 -214.2 170.5 -210.7 166.4 -207.1 162.4 M-272.5 180.9 -267.1 178.9 -261.4 177.3 -256.1 175.2 -251.3 172.2 -247.3 168.2 -243.3 164 -238.7 160.7 -233.3 158.7 -227.6 157.3 -222 155.6 -216.9 153.2 -211.9 150.6 M-277.7 172.7 -273.9 168.8 -270.3 164.3 -266.8 160 -262.5 156.7 -257.6 154.5 -252.5 152.5 -247.9 149.8 -244 145.9 -240.4 141.5 -236.7 137.3 -232.6 133.8 -228.4 130.5 M-295.5 140.1 -290.2 138.9 -284.6 138.3 -279.1 137.7 -273.6 136.8 -268.7 134.7 -264.3 131.7 -260 128.3 -255.2 126 -249.8 125.1 -244.3 124.3 -239.1 122.9 -234 121.2 M-299.4 131.6 -295 128.4 -291 124.5 -286.9 120.7 -282.3 118 -277.2 116.6 -271.7 115.8 -266.6 114.3 -262.1 111.5 -257.9 107.8 -253.8 104.1 -249.3 101.2 -244.8 98.4 M-312.5 96.4 -306.9 95.6 -300.9 96 -294.7 97.1 -288.8 97.4 -283.4 95.9 -278.5 92.9 -273.6 89.5 -268.4 87.3 -262.7 86.7 -256.9 86.6 -251.3 85.9 -245.7 85 M-315 87.9 -310.2 85.6 -305.8 82.2 -301.5 78.2 -297 74.9 -292.1 73.2 -286.7 72.8 -281.4 72.5 -276.2 71.5 -271.5 69.1 -266.9 66.1 -262.2 63.7 -257.3 61.6 M-322.9 51.6 -317.1 52.1 -311.2 52.8 -305.4 52.9 -299.7 52.1 -294.2 50.4 -288.7 48.7 -283 47.7 -277.2 47.7 -271.3 48.7 -265.4 49.4 -259.7 49.2 -254 48.8 M-324.4 41.5 -319.2 39.4 -314 37 -308.7 35.4 -303.3 34.5 -297.9 34.3 -292.4 33.9 -287 32.7 -281.8 30.8 -276.7 28.2 -271.5 26 -266.2 24.6 -260.8 23.4 M-327 4.7 -321.4 5.7 -315.8 7.5 -310.3 9.4 -304.7 10.9 -299.1 11.1 -293.5 10.4 -288 9.5 -282.4 9.3 -276.8 10.7 -271.2 12.3 -265.6 13.1 -260.1 13.7 M-327 -4.7 -321.7 -5.7 -316.5 -7.6 -311.2 -9.9 -306 -11.2 -300.7 -11 -295.4 -9.7 -290.2 -8.3 -284.9 -8.2 -279.6 -9.6 -274.4 -11.2 -269.1 -12 -263.9 -12.6 M-324.4 -41.2 -319.5 -39 -314.6 -37 -309.6 -35.7 -304.4 -35.2 -299.2 -35.4 -294 -35.3 -288.9 -34.2 -284 -32.1 -279.1 -29.4 -274.2 -27.4 -269.1 -26.3 -264.1 -25.3 M-322.9 -51.9 -317.5 -52.6 -312.1 -53.3 -306.8 -53.2 -301.8 -51.7 -296.8 -49.5 -291.7 -47.8 -286.5 -47.7 -281 -48.8 -275.5 -50.1 -270.2 -50.6 -264.9 -50.2 -259.7 -49.7 M-315.1 -87.5 -310.4 -85 -305.9 -81.8 -301.4 -78.4 -296.8 -75.7 -291.8 -74.2 -286.5 -73.6 -281.2 -73.1 -276.3 -71.5 -271.7 -68.6 -267.1 -65.6 -262.3 -63.3 -257.5 -61.3 M-312.4 -96.7 -307 -96.3 -301.3 -96.6 -295.5 -97.4 -289.9 -97.3 -284.8 -95.7 -280 -93.2 -275.2 -90.5 -270.1 -89.1 -264.5 -89 -259 -89.1 -253.6 -88.3 -248.3 -87.3 M-299.4 -131.6 -294.8 -128.3 -290.6 -124 -286.6 -119.4 -282.1 -115.8 -276.9 -113.7 -271.3 -112.6 -265.7 -111.4 -260.6 -109.2 -256.1 -105.6 -251.7 -101.9 -247 -98.8 -242.2 -96 M-295.5 -140.1 -290 -138.7 -284.1 -138.1 -278.2 -137.4 -272.6 -136.1 -267.6 -133.6 -262.9 -130.5 -258.1 -127.5 -252.9 -125.2 -247.3 -124.1 -241.5 -123.3 -236 -121.7 -230.7 -119.9 M-277.9 -172.4 -274.2 -168.5 -270.8 -164.1 -267.2 -160 -262.9 -157 -258 -155 -253.1 -153 -248.6 -150.2 -244.7 -146.6 -241.4 -142.1 -237.7 -138.1 -233.6 -134.8 -229.4 -131.7 M-272.3 -181.2 -267.2 -179.5 -261.9 -178.1 -256.8 -176.4 -252.4 -173.5 -248.6 -169.8 -244.8 -166.2 -240.3 -163.5 -235.1 -162 -229.7 -160.7 -224.5 -159.1 -219.8 -156.8 -215.2 -154.3 M-250.1 -210.7 -246.8 -206.6 -244.1 -201.8 -241.7 -196.7 -238.6 -192.3 -234.5 -189.1 -229.8 -186.7 -225.3 -184 -221.3 -180.7 -218.2 -176.4 -215.3 -171.8 -212 -167.7 -208.5 -163.9 M-244.2 -217.6 -239.2 -214.5 -233.5 -212.3 -227.5 -210.6 -222.1 -208.1 -217.8 -204.3 -214.3 -199.6 -210.9 -194.8 -206.8 -190.7 -201.7 -187.9 -196.4 -185.3 -191.4 -182.3 -186.7 -179 M-218.2 -243.6 -215.5 -238.4 -212.8 -233.2 -209.6 -228.5 -205.7 -224.3 -201.3 -220.6 -197.1 -216.6 -193.6 -212.1 -190.8 -207 -188.6 -201.4 -185.9 -196.2 -182.5 -191.6 -178.9 -187.1 M-210.1 -250.6 -205.4 -247.3 -200.5 -244.1 -196.2 -240.5 -193 -235.9 -190.4 -230.8 -187.4 -226 -183.3 -222.1 -178.1 -219.2 -172.8 -216.4 -168.1 -213.1 -164.1 -209.2 -160.3 -205.1 M-181.4 -272.1 -179.5 -266.5 -177.4 -261.1 -174.5 -256.2 -170.9 -251.7 -167 -247.3 -163.7 -242.6 -161.5 -237.2 -159.9 -231.4 -158.5 -225.5 -156.4 -220.1 -153.6 -215.1 -150.6 -210.2 M-172.1 -278.1 -168.1 -274.5 -164.2 -270.8 -160.8 -266.8 -158.6 -262 -156.8 -257 -154.4 -252.3 -150.8 -248.5 -146.3 -245.2 -141.8 -241.9 -138 -238.1 -134.9 -233.9 -132 -229.6 M-140.5 -295.3 -139.5 -289.7 -138.6 -284 -137.1 -278.6 -134.8 -273.6 -131.7 -268.9 -128.8 -264.1 -126.8 -258.9 -125.7 -253.3 -125.1 -247.5 -124.2 -241.9 -122.4 -236.6 -120.4 -231.4 M-131.1 -299.6 -127.7 -295.2 -124 -290.9 -120.7 -286.4 -118.4 -281.4 -116.8 -276.1 -115.2 -270.9 -112.5 -266.1 -109.1 -261.7 -105.1 -257.5 -101.5 -253.2 -98.7 -248.4 -96.1 -243.6 M-97.4 -312.2 -97.2 -306.4 -97 -300.6 -96.1 -294.9 -94 -289.7 -91.3 -284.6 -89.3 -279.3 -88.6 -273.6 -89 -267.6 -89.3 -261.6 -88.8 -255.8 -87.6 -250.3 -86.1 -244.9 M-86.8 -315.3 -83.9 -310.3 -81.2 -305.3 -79.5 -299.9 -78.8 -294.3 -78.4 -288.5 -77.2 -283 -74.5 -278 -70.7 -273.3 -67 -268.5 -64.3 -263.4 -62.4 -258.1 -60.7 -252.8 M-51.8 -322.9 -52.4 -317.2 -53.2 -311.4 -53.4 -305.7 -52.2 -300.2 -50.3 -294.8 -48.6 -289.4 -48.3 -283.7 -49.1 -277.9 -50.2 -272.1 -50.8 -266.4 -50.4 -260.7 -49.9 -255.1 M-41.3 -324.4 -39.1 -319.2 -36.9 -314 -35.6 -308.7 -35.4 -303.2 -36 -297.6 -36.2 -292.1 -34.9 -286.7 -32.3 -281.6 -29.5 -276.5 -27.4 -271.3 -26.2 -265.9 -25.2 -260.6 M-5.1 -327 -6.4 -321.8 -8.4 -316.5 -10.2 -311.3 -10.7 -306 -9.7 -300.8 -8.2 -295.6 -7.3 -290.3 -8.1 -285.1 -9.9 -279.8 -11.4 -274.6 -12 -269.4 -12.4 -264.1 M5.1 -327 6.4 -321.5 8.1 -316.1 9.6 -310.6 10 -305.2 9.2 -299.7 8.2 -294.2 7.8 -288.8 8.6 -283.3 10.4 -277.9 11.9 -272.4 12.5 -266.9 12.9 -261.5 M41.3 -324.4 39.1 -319 36.9 -313.5 35.2 -308 34.6 -302.3 34.6 -296.5 34.3 -290.8 32.7 -285.3 30.2 -279.9 27.5 -274.5 25.4 -269.1 24.1 -263.5 23 -257.9 M51.8 -322.9 52.4 -317.5 53.4 -312 53.7 -306.6 52.7 -301.4 50.8 -296.4 49.1 -291.3 48.5 -286 49 -280.6 50.2 -275.1 50.7 -269.6 50.5 -264.3 50 -259.1 M87.8 -315 85.4 -309.9 82 -305.1 78 -300.5 74.7 -295.6 73 -290.3 72.5 -284.7 72.2 -279 71.1 -273.5 68.5 -268.5 65.5 -263.6 63 -258.5 60.8 -253.3 M96.4 -312.5 95.7 -307.1 96 -301.3 96.5 -295.6 96.5 -289.9 95 -284.7 92.4 -279.9 89.4 -275.1 87.4 -270.1 86.9 -264.6 86.9 -259 86.2 -253.5 85.3 -248.1 M131.5 -299.4 128.2 -294.7 124.2 -290.3 120.4 -285.8 117.4 -281 115.6 -275.6 114.3 -270 112.2 -264.7 109.1 -259.9 105.3 -255.4 101.5 -250.9 98.4 -246.1 95.6 -241.2 M140.1 -295.5 138.7 -289.8 138.2 -283.8 137.9 -277.7 136.6 -272 133.8 -267 130.2 -262.3 126.8 -257.6 124.4 -252.4 123.3 -246.6 122.4 -240.8 120.8 -235.2 118.9 -229.8 M172.1 -278.1 167.9 -274 163.8 -269.8 160.7 -265 158.5 -259.7 156.5 -254.1 153.8 -249 149.7 -244.9 144.4 -241.5 139.3 -237.9 135.2 -233.7 131.9 -229.1 128.6 -224.4 M181.4 -272.1 179.6 -266.6 177.5 -261.2 174.8 -256.2 171.6 -251.5 168 -247 164.7 -242.4 161.9 -237.5 160.2 -231.9 158.8 -226 156.7 -220.6 153.9 -215.7 151 -210.9 M210.6 -250.2 206.3 -247 201.5 -244.3 196.4 -241.7 192.2 -238.4 189.2 -234.1 186.9 -229.2 184.3 -224.6 180.9 -220.6 176.4 -217.6 171.7 -214.7 167.7 -211.3 163.8 -207.7 M217.7 -244 214.9 -239.2 212.9 -233.7 210.7 -228.2 207.6 -223.7 203.2 -220.2 198.3 -217.2 194 -213.6 190.9 -209 188.6 -203.8 186.2 -198.6 183.2 -193.9 180 -189.3 M243.7 -218.1 238.7 -215.7 233.7 -213.4 229 -210.7 225.2 -206.9 222 -202.5 218.6 -198.3 214.4 -195 209.4 -192.7 204.1 -190.7 199.2 -188.2 194.8 -185.1 190.6 -181.8 M250.6 -210.1 247.3 -205.4 244 -200.7 240 -196.6 235.6 -193.1 230.9 -190.1 226.3 -186.8 222.4 -182.7 219.1 -178 216.1 -172.9 212.8 -168.2 208.9 -164.1 204.8 -160.2 M272.5 -180.8 267.5 -179 262 -178.1 256.4 -177.1 251.6 -175.1 247.6 -171.7 244 -167.7 240 -164.3 235.5 -161.8 230.3 -160.2 225.1 -158.8 220.3 -156.6 215.7 -154.3 M277.7 -172.7 273.8 -168.9 270.3 -164.4 266.7 -160 262.5 -156.7 257.4 -154.7 252.1 -153 247.2 -150.6 243.1 -147.2 239.4 -142.9 235.7 -138.7 231.6 -135.1 227.4 -131.8 M295.2 -140.8 289.7 -139.8 284.2 -138.8 278.9 -137.4 274.1 -135 269.5 -132 264.7 -129.4 259.5 -127.8 254 -127 248.2 -126.5 242.8 -125.4 237.7 -123.6 232.7 -121.5 M299.7 -130.9 295.5 -127.5 291.2 -124.1 286.7 -121.5 281.8 -119.5 276.7 -118 271.7 -116.2 267.1 -113.6 262.9 -110.2 259 -106.2 254.7 -102.9 250.1 -100.3 245.4 -97.9 M312.4 -96.8 306.7 -96.3 300.6 -96.7 294.6 -97.3 288.9 -96.7 283.6 -94.5 278.6 -91.6 273.5 -89.1 268 -87.7 262.2 -87.6 256.3 -87.5 250.7 -86.7 245.1 -85.6 M315.1 -87.5 310 -84.8 305.2 -81.3 300.4 -77.8 295.2 -75.5 289.6 -74.6 283.8 -74.3 278.2 -73.3 273 -71.3 268 -68.3 263.1 -65.1 257.9 -62.8 252.6 -60.7 M322.9 -52 317.4 -52.7 311.9 -53.3 306.5 -53.3 301.2 -52.2 296.1 -50.5 290.8 -49.4 285.4 -49.6 279.8 -50.6 274.2 -51.8 268.8 -52.2 263.4 -51.7 258.1 -51.1 M324.5 -41 319 -38.8 313.5 -36.8 308 -35.2 302.3 -34.8 296.5 -34.8 290.8 -34.3 285.3 -32.7 279.9 -30.3 274.5 -27.4 269 -25.5 263.4 -24.4 257.8 -23.4 M202.7 11.5 207.2 11 211.7 9.7 216.3 8.3 220.7 8.2 225.1 9.6 229.4 11.9 233.7 13.8 238.1 14.2 242.6 13.4 247.2 12.3 251.6 11.7 256.1 11.5 M202.3 17.5 207 18.6 211.6 20.6 216.2 22.7 220.9 23.8 225.7 23.2 230.5 21.6 235.4 20.3 240.2 20.2 244.8 21.5 249.5 23.3 254.2 24.5 258.9 25.4 M199.2 39.3 203.9 39 208.6 38.9 213 40 217.1 42.4 221.2 45.2 225.4 47.2 229.9 47.6 234.8 46.6 239.7 45.4 244.4 45.3 248.9 45.9 253.4 46.7 M197.5 47 201.5 49.2 205.5 51.2 209.7 52.2 214.2 51.9 218.9 51.1 223.4 50.9 227.6 52 231.5 54.3 235.4 57.1 239.4 59.1 243.5 60.3 247.8 61.4 M191.6 67.3 196.2 67.7 200.9 68.2 205.2 69.6 209.1 72 212.8 75 216.7 77.5 221 78.9 225.7 79.2 230.6 79.1 235.3 79.6 239.6 80.8 243.9 82.2 M188.8 74.6 192.7 77.4 196.5 80.1 200.7 82 205.4 82.5 210.3 82.3 215.1 82.6 219.3 84.2 223.1 87.1 226.8 90.4 230.7 93.1 234.8 95 239 96.8 M179.9 94.1 184.3 95.2 188.8 96 192.9 97.5 196.4 100.2 199.4 103.9 202.4 107.5 206 109.9 210.3 111.1 214.9 111.7 219.4 112.6 223.5 114.2 227.5 116 M176.4 100.4 179.7 103.6 182.9 107 186.4 109.8 190.6 111.4 195.3 112 199.9 112.7 204 114.5 207.3 117.7 210.3 121.4 213.5 124.7 217.1 127.3 220.8 129.7 M164.7 118.7 169 120.4 173.4 121.9 177.2 124.1 180.2 127.5 182.6 131.7 185.1 135.8 188.4 138.7 192.6 140.4 197.3 141.6 201.6 143.2 205.5 145.4 209.2 147.8 M160.3 124.6 163.2 128.3 166.1 132.2 169.5 135.2 173.7 137.2 178.3 138.6 182.8 140.2 186.6 142.8 189.7 146.4 192.3 150.5 195.2 154.3 198.5 157.5 202 160.4 M145.9 141.2 149.8 143.7 154.2 145.7 158.5 147.8 161.7 151 163.9 155.2 165.7 159.9 168 164 171.2 167.2 175.4 169.4 179.6 171.6 183.4 174.3 186.9 177.1 M141.2 145.9 143.8 149.9 146 154.4 148.5 158.5 152 161.7 156.4 163.9 161.1 165.9 165 168.6 167.9 172.4 170 176.9 172.3 181.3 175.1 185.1 178 188.8 M124.3 160.5 127.9 163.7 132.1 166.5 136.1 169.4 139 173.1 140.8 177.7 142.2 182.5 144.3 186.8 147.6 190.3 151.7 193.2 155.7 196.1 159.1 199.4 162.3 202.9 M119 164.5 121 168.9 122.5 173.6 124.5 178.1 127.3 181.9 130.9 185.1 134.8 188 138.2 191.4 140.8 195.4 142.5 200 144.2 204.6 146.4 208.8 148.9 212.9 M100.5 176.4 103.7 179.7 107 182.9 109.7 186.4 111.3 190.5 112 195.1 112.7 199.7 114.4 203.8 117.2 207.2 120.8 210.3 124.1 213.5 126.7 217.1 129.1 220.8 M94.1 179.9 95.2 184.5 96.1 189.2 97.8 193.5 100.6 197.1 104.3 200.3 107.9 203.5 110.5 207.3 111.8 211.8 112.5 216.6 113.5 221.2 115.2 225.5 117.1 229.7 M73.9 189.1 76.3 193.1 79.5 196.7 82.6 200.5 84.5 204.6 84.9 209.4 84.7 214.3 85.1 219.1 86.8 223.3 89.6 227.1 92.5 230.9 94.9 234.9 97 239 M68 191.3 68.7 195.8 68.7 200.6 68.9 205.3 70.2 209.6 73 213.3 76.5 216.8 79.4 220.5 81 224.6 81.5 229.2 81.6 233.9 82.5 238.4 83.5 242.8 M46.2 197.7 48.1 202.1 50.7 206.3 53.1 210.5 54.4 215 54.3 219.8 53.6 224.8 53.5 229.6 54.7 234.1 57 238.4 59.4 242.7 61.2 247 62.7 251.5 M40.1 199 40.1 203.5 39.4 208.1 38.7 212.7 39.2 217 41.2 221 43.9 224.9 46.3 228.8 47.4 233 47.2 237.5 46.7 242.1 46.8 246.5 47.2 250.9 M17.9 202.2 19.3 206.5 21.2 210.8 22.5 215 22.5 219.4 21.3 223.9 19.9 228.4 19.5 232.8 20.4 237.1 22.2 241.3 24 245.6 25 249.9 25.7 254.2 M11.1 202.7 10.3 207.3 9 211.9 8.1 216.5 8.7 221 10.6 225.4 12.9 229.8 14.2 234.2 14.1 238.8 12.9 243.4 11.8 248 11.4 252.6 11.3 257.1 M-10.6 202.8 -9.6 207.5 -8.8 212.2 -9.2 216.9 -10.8 221.5 -12.9 226 -14.4 230.5 -14.6 235.2 -13.5 240 -12 244.7 -11.2 249.5 -11.2 254.1 -11.3 258.8 M-18.4 202.2 -20 206.7 -21.5 211.2 -21.7 215.8 -20.6 220.5 -19.3 225.2 -18.6 229.9 -19.5 234.5 -21.5 238.9 -23.6 243.4 -25.1 247.9 -25.8 252.5 -26.3 257.1 M-39.7 199.1 -39.5 204.1 -39.1 209.2 -39.5 214.1 -41.2 218.8 -43.8 223.2 -46.3 227.7 -47.6 232.4 -47.5 237.4 -46.8 242.5 -46.5 247.6 -46.9 252.5 -47.6 257.4 M-46.6 197.6 -48.8 201.8 -51.2 206 -52.9 210.3 -53.2 214.9 -52.4 219.8 -51.6 224.6 -52.1 229.2 -54.1 233.4 -56.9 237.5 -59.2 241.7 -60.8 246 -62.1 250.4 M-67.3 191.6 -67.7 196.3 -68.1 201 -69.2 205.4 -71.6 209.4 -74.7 213.1 -77.3 217 -78.7 221.3 -79 226.1 -78.9 231 -79.4 235.7 -80.7 240.1 -82.1 244.4 M-74.6 188.8 -77.4 192.7 -80.1 196.7 -81.8 201 -82.1 205.8 -81.8 210.8 -82.1 215.7 -83.9 219.9 -87.1 223.7 -90.7 227.3 -93.4 231.2 -95.4 235.4 -97.2 239.7 M-94.5 179.7 -95.9 184 -96.5 188.7 -97.4 193.3 -99.3 197.3 -102.5 200.7 -106.2 203.7 -109.6 206.9 -111.8 210.8 -112.9 215.2 -113.8 219.8 -115.2 224.1 -116.8 228.3 M-100 176.7 -102.9 180 -106.5 183 -109.9 186.1 -112.4 189.7 -113.6 194 -114.1 198.6 -115 203.1 -117 206.9 -120.1 210.2 -123.5 213.3 -126.2 216.7 -128.8 220.2 M-118.9 164.6 -120.8 169.1 -122.4 173.8 -124.5 178 -127.8 181.5 -131.9 184.3 -136 187.1 -139.3 190.5 -141.4 194.8 -142.9 199.6 -144.6 204.2 -146.9 208.4 -149.4 212.4 M-124.4 160.4 -128.3 163.6 -132.4 166.5 -136.1 169.7 -138.9 173.7 -140.7 178.4 -142.3 183.1 -144.8 187.3 -148.4 190.7 -152.5 193.6 -156.5 196.6 -159.9 200.1 -163.1 203.7 M-140.8 146.3 -143.1 150.4 -145.5 154.4 -148.7 157.6 -152.8 159.9 -157.2 161.8 -161.2 164.2 -164.1 167.7 -166 172.2 -167.8 176.8 -170.1 180.8 -173.1 184.3 -176.1 187.6 M-146.3 140.8 -150.7 143.3 -155 146 -158.6 149.2 -161.3 153.5 -163.5 158.2 -166.2 162.5 -169.9 165.7 -174.6 167.9 -179.4 170 -183.6 172.7 -187.4 175.9 -191 179.2 M-160.4 124.4 -163.5 128.2 -166.3 132.2 -169.4 135.7 -173.5 138.1 -178.3 139.5 -183.1 140.8 -187.3 143 -190.5 146.5 -193.2 150.7 -196.1 154.6 -199.4 157.9 -202.9 161 M-164.6 118.9 -169 120.7 -173.7 122.3 -178 124.3 -181.4 127.4 -184.1 131.6 -186.7 135.8 -190 139.2 -194.1 141.5 -198.7 143 -203.3 144.7 -207.4 146.9 -211.4 149.4 M-176.7 100.1 -180.3 103.1 -183.5 106.9 -186.8 110.5 -190.7 113 -195.4 114.1 -200.5 114.5 -205.3 115.3 -209.4 117.4 -212.9 120.7 -216.3 124.2 -220 127.1 -223.8 129.8 M-179.7 94.5 -184 95.8 -188.7 96.4 -193.3 97 -197.4 98.8 -200.7 101.9 -203.7 105.6 -206.9 108.8 -210.9 110.8 -215.3 111.8 -219.8 112.6 -224.1 114 -228.2 115.7 M-188.9 74.5 -192.8 77.3 -196.6 80.1 -200.9 81.8 -205.7 82.2 -210.7 81.9 -215.6 82 -219.9 83.6 -223.7 86.7 -227.4 90.2 -231.2 92.9 -235.4 95 -239.6 96.8 M-191.5 67.4 -196.1 67.7 -200.6 68.1 -204.8 69.4 -208.4 72 -211.8 75.4 -215.4 78.4 -219.5 79.9 -224.1 80.1 -228.8 79.8 -233.4 80.1 -237.6 81.2 -241.8 82.5 M-197.6 46.5 -202.1 48.5 -206.4 51.1 -210.8 53 -215.5 53.7 -220.5 53.2 -225.5 52.5 -230.3 52.7 -234.9 54.2 -239.2 56.6 -243.5 59 -248 60.7 -252.6 62.2 M-199.1 39.8 -203.7 39.7 -208.5 39.1 -213.1 39.2 -217.5 40.6 -221.6 43 -225.6 45.6 -229.9 47.2 -234.5 47.2 -239.3 46.5 -244.1 46 -248.6 46.3 -253.2 46.8 M-202.2 18 -206.7 19.6 -211.2 21.4 -215.7 22.3 -220.3 22 -225 20.6 -229.7 19.3 -234.3 19.3 -238.7 20.9 -243.2 23.1 -247.6 24.8 -252.2 25.7 -256.7 26.4 M-202.7 10.9 -207.6 10.1 -212.5 8.9 -217.3 8.6 -222.1 9.7 -226.7 11.9 -231.4 14.1 -236.1 15 -241 14.4 -245.9 13 -250.8 12 -255.6 11.8 -260.4 11.7 M-202.7 -11.3 -207.2 -10.6 -211.8 -9.3 -216.3 -8.4 -220.7 -8.8 -225 -10.7 -229.3 -13.1 -233.6 -14.7 -238.1 -14.8 -242.6 -13.6 -247.2 -12.5 -251.6 -12 -256.1 -11.8 M-202.3 -17.7 -207.1 -19 -211.8 -21 -216.6 -22.6 -221.5 -22.9 -226.5 -21.9 -231.5 -20.3 -236.5 -19.4 -241.4 -20 -246.2 -21.6 -251 -23.4 -255.8 -24.5 -260.6 -25.4 M-199.1 -39.6 -203.9 -39.4 -208.6 -39 -213.2 -39.5 -217.5 -41.2 -221.7 -43.3 -225.9 -45.2 -230.4 -46.3 -235 -46.4 -239.8 -45.7 -244.6 -45.4 -249.2 -45.8 -253.7 -46.5 M-197.6 -46.7 -202 -48.9 -206.3 -51.4 -210.8 -53.1 -215.6 -53.4 -220.6 -52.5 -225.7 -51.8 -230.4 -52.2 -234.9 -54.1 -239.1 -56.8 -243.5 -59.1 -248 -60.6 -252.6 -62 M-191.5 -67.4 -196.6 -68 -201.6 -68.4 -206.4 -69.7 -210.7 -72.3 -214.6 -75.7 -218.7 -78.9 -223.2 -81 -228.1 -81.8 -233.3 -81.8 -238.4 -82.4 -243.1 -83.6 -247.8 -85.1 M-188.9 -74.4 -192.8 -77.2 -196.7 -80.1 -200.9 -82.2 -205.5 -83 -210.5 -83 -215.4 -83.3 -219.8 -84.8 -223.7 -87.5 -227.5 -90.8 -231.4 -93.6 -235.6 -95.7 -239.8 -97.6 M-180 -93.9 -184.8 -95.1 -189.7 -96.3 -194 -98.4 -197.7 -101.8 -201 -105.8 -204.5 -109.4 -208.8 -111.7 -213.7 -112.7 -218.8 -113.4 -223.6 -114.6 -228.1 -116.6 -232.4 -118.7 M-176.3 -100.6 -179.9 -104 -183.5 -107.4 -187.6 -110 -192.2 -111.5 -197.2 -112.3 -202 -113.5 -206.1 -116 -209.4 -119.8 -212.7 -123.8 -216.3 -127.2 -220.3 -129.8 -224.4 -132.3 M-164.6 -118.8 -169.2 -120.7 -174 -122.4 -178.3 -124.5 -181.9 -127.8 -184.6 -132.1 -187.4 -136.5 -190.8 -140 -195 -142.3 -199.8 -143.9 -204.5 -145.7 -208.7 -148.1 -212.8 -150.7 M-160.4 -124.5 -163.6 -128.4 -166.6 -132.5 -170 -136 -174.2 -138.5 -179.1 -140.1 -184.1 -141.7 -188.4 -144.1 -191.9 -147.5 -194.8 -151.8 -197.9 -155.8 -201.4 -159.2 -205.1 -162.4 M-145.9 -141.2 -149.7 -143.5 -154 -145.4 -158 -147.5 -161 -150.6 -163.1 -154.8 -164.8 -159.1 -167.2 -162.9 -170.6 -165.6 -174.7 -167.7 -178.8 -169.7 -182.4 -172.3 -185.8 -175 M-141.2 -145.9 -143.6 -149.8 -145.7 -154.1 -148 -158.1 -151.3 -161.2 -155.5 -163.3 -160 -165.2 -164 -167.6 -166.9 -171 -169.1 -175.2 -171.2 -179.4 -173.9 -183.1 -176.7 -186.6 M-124.3 -160.6 -127.7 -163.5 -131.6 -166 -135.1 -168.8 -137.6 -172.4 -139.1 -176.7 -140.2 -181.3 -141.9 -185.5 -144.6 -188.9 -148.3 -191.6 -152.1 -194.2 -155.3 -197.3 -158.3 -200.5 M-119.1 -164.5 -120.9 -168.6 -122.2 -173.1 -123.8 -177.3 -126.6 -180.7 -130.5 -183.3 -134.7 -185.5 -138.3 -188.3 -140.6 -192.1 -142 -196.5 -143.4 -200.9 -145.5 -204.9 -147.7 -208.7 M-100.1 -176.6 -103.2 -180.4 -107 -183.9 -110.6 -187.5 -113 -191.6 -114.1 -196.5 -114.8 -201.7 -116.1 -206.5 -118.7 -210.6 -122.2 -214.2 -125.8 -217.7 -128.8 -221.6 -131.6 -225.6 M-94.5 -179.7 -95.8 -184.2 -96.6 -189 -97.6 -193.6 -99.8 -197.6 -103.3 -200.9 -107.2 -203.9 -110.6 -207.3 -112.6 -211.4 -113.7 -216 -114.6 -220.7 -116.1 -225.1 -117.8 -229.4 M-74.3 -188.9 -77.1 -192.7 -80 -196.4 -82 -200.5 -82.7 -205 -82.6 -209.8 -82.8 -214.6 -84.3 -218.8 -87.3 -222.5 -90.9 -225.9 -93.8 -229.7 -95.9 -233.7 -97.8 -237.8 M-67.5 -191.5 -68 -196.2 -68.3 -201 -69.4 -205.5 -71.5 -209.6 -74.4 -213.4 -77.2 -217.3 -78.9 -221.5 -79.7 -226.1 -79.7 -231 -80.1 -235.8 -81.1 -240.3 -82.4 -244.7 M-46.1 -197.7 -47.8 -201.9 -50.5 -205.8 -53.1 -209.8 -54.6 -214 -54.5 -218.6 -53.5 -223.3 -52.8 -228 -53.4 -232.4 -55.2 -236.5 -57.6 -240.6 -59.3 -244.7 -60.9 -248.9 M-40.2 -199 -40.5 -203.8 -39.8 -208.9 -39.2 -213.9 -39.5 -218.7 -41.3 -223.2 -44.1 -227.5 -46.7 -231.8 -48.2 -236.3 -48.3 -241.2 -47.9 -246.2 -48.1 -251 -48.5 -255.8 M-17.7 -202.3 -19 -207.1 -21 -211.8 -22.6 -216.6 -22.9 -221.5 -21.7 -226.5 -20 -231.5 -19 -236.5 -19.6 -241.4 -21.3 -246.1 -23.1 -250.9 -24.2 -255.7 -25.1 -260.6 M-11.3 -202.7 -10.7 -207.6 -9.4 -212.5 -8.3 -217.3 -8.4 -222.1 -10 -226.8 -12.2 -231.5 -13.6 -236.2 -13.5 -241 -12.4 -245.9 -11.3 -250.8 -10.9 -255.6 -10.7 -260.4 M10.7 -202.8 9.7 -207.6 8.8 -212.5 8.8 -217.3 10.1 -222 12.3 -226.6 13.9 -231.3 14 -236.1 12.6 -241 10.8 -245.9 9.9 -250.7 9.8 -255.5 10 -260.3 M18.3 -202.2 19.9 -206.7 21.5 -211.1 22.1 -215.7 21.3 -220.3 19.7 -225 18.7 -229.7 19.2 -234.2 21.2 -238.6 23.6 -243 25.2 -247.5 25.9 -252 26.4 -256.6 M40.2 -199 40.4 -203.7 39.8 -208.7 39.1 -213.6 39.5 -218.3 41.5 -222.6 44.4 -226.8 46.9 -231 48.2 -235.5 48.3 -240.3 47.9 -245.1 48 -249.9 48.5 -254.6 M46.1 -197.7 47.9 -202.2 50.5 -206.4 53.2 -210.6 54.9 -215.1 55.1 -219.9 54.4 -224.9 54.1 -229.8 55.1 -234.4 57.1 -238.8 59.5 -243.1 61.4 -247.5 62.9 -252 M67.8 -191.4 68.4 -196 68.4 -200.7 68.7 -205.4 70 -209.7 72.7 -213.6 75.7 -217.2 78.2 -221.1 79.5 -225.4 79.7 -230.1 80 -234.8 80.9 -239.3 82 -243.7 M74.1 -189 76.7 -192.9 79.8 -196.6 82.6 -200.4 84 -204.6 84.3 -209.4 84.2 -214.3 84.9 -218.8 87.2 -222.8 90.2 -226.5 93.2 -230.2 95.4 -234.2 97.4 -238.3 M94.2 -179.9 95.4 -184.6 96.3 -189.5 97.7 -194.1 100.5 -198 104.3 -201.3 108.2 -204.5 111.1 -208.3 112.8 -212.8 113.7 -217.7 114.7 -222.5 116.4 -227 118.4 -231.3 M100.4 -176.5 103.6 -179.9 107.2 -183.1 110.2 -186.6 111.9 -190.9 112.5 -195.7 113.1 -200.5 114.8 -204.8 117.7 -208.4 121.3 -211.6 124.7 -214.9 127.4 -218.6 129.9 -222.4 M118.9 -164.5 120.8 -168.8 122.2 -173.4 124.2 -177.5 127.2 -180.9 131 -183.8 134.9 -186.5 138.1 -189.7 140.5 -193.6 142 -198.1 143.6 -202.6 145.7 -206.6 148.1 -210.5 M124.4 -160.5 128.2 -163.7 132.3 -166.6 136 -169.9 138.7 -174 140.5 -178.7 142 -183.6 144.2 -188 147.4 -191.7 151.5 -194.7 155.5 -197.7 159 -201.1 162.3 -204.8 M140.7 -146.4 143.1 -150.5 145.5 -154.5 148.7 -157.8 152.7 -160.3 157.1 -162.4 161 -165 163.8 -168.7 165.8 -173.2 167.7 -177.8 170.2 -181.7 173.2 -185.2 176.4 -188.5 M146.4 -140.7 150.6 -143.2 154.7 -145.8 158 -149.2 160.3 -153.6 162.2 -158.4 164.7 -162.6 168.3 -165.7 172.9 -167.8 177.7 -169.8 181.8 -172.4 185.3 -175.6 188.8 -178.9 M160.1 -124.8 163 -128.6 166 -132.1 169.6 -134.8 174.1 -136.3 179 -137.3 183.5 -138.9 186.9 -141.9 189.5 -146 191.8 -150.4 194.8 -154 198.2 -157 201.7 -159.8 M164.9 -118.5 169.2 -120.1 173.4 -121.9 176.9 -124.5 179.7 -128.2 182.1 -132.3 185 -135.9 188.8 -138.1 193.5 -139.3 198.2 -140.4 202.4 -142.2 206.1 -144.6 209.7 -147.1 M176.6 -100.1 180.3 -103.2 183.6 -106.9 187.1 -110.2 191.2 -112.6 195.9 -113.8 200.8 -114.7 205.3 -116.2 209.2 -118.9 212.6 -122.3 216 -125.8 219.8 -128.8 223.7 -131.5 M179.7 -94.5 184.2 -95.9 189.1 -96.6 193.9 -97.5 198 -99.5 201.4 -102.9 204.6 -106.9 208.1 -110.1 212.3 -112.1 217 -113 221.8 -114 226.2 -115.5 230.5 -117.2 M188.9 -74.4 192.8 -77.2 196.6 -80.1 200.7 -82.2 205.3 -83.1 210.2 -83.2 215 -83.4 219.3 -84.9 223.2 -87.7 226.9 -90.9 230.8 -93.7 234.9 -95.8 239.1 -97.7 M191.5 -67.5 196.1 -67.9 200.8 -68.2 205.1 -69.3 209 -71.7 212.6 -74.8 216.3 -77.7 220.4 -79.4 225.1 -79.7 229.9 -79.6 234.5 -80 238.9 -81 243.2 -82.3 M197.7 -46.1 202.1 -47.9 206.4 -50.5 210.6 -53.1 215.1 -54.6 219.9 -54.6 224.9 -53.8 229.8 -53.5 234.4 -54.4 238.8 -56.4 243 -58.8 247.5 -60.6 251.9 -62.2 M199 -40.2 203.9 -40.5 209.1 -39.9 214.2 -39.3 219 -40 223.5 -42.2 227.8 -45.3 232.3 -47.8 237 -49 242 -48.8 247.1 -48.4 252.1 -48.7 257 -49.1 M202.2 -18.2 206.6 -19.8 211 -21.4 215.5 -22 220.1 -21.2 224.7 -19.9 229.3 -19.1 233.8 -19.6 238.2 -21.4 242.6 -23.5 247 -25.1 251.5 -25.9 256 -26.4 M202.8 -10.7 207.7 -9.8 212.6 -8.9 217.4 -9 222.2 -10.6 226.9 -12.9 231.6 -14.8 236.4 -15.2 241.3 -14.2 246.3 -12.7 251.2 -11.8 256.1 -11.7 260.9 -11.7"/>
</g>
<circle r="197" fill="#ffffff"/>
<circle r="200" fill="none" stroke="#c9cbe6" stroke-width="9" opacity="0.7" filter="url(#fB2)"/>
<circle cx="140.3" cy="27" r="24" fill="url(#gG)"/>
<circle cx="140.3" cy="-27" r="24" fill="url(#gG)"/>
<circle cx="93.5" cy="108" r="24" fill="url(#gG)"/>
<circle cx="93.5" cy="-108" r="24" fill="url(#gG)"/>
<circle cx="46.8" cy="135" r="24" fill="url(#gG)"/>
<circle cx="46.8" cy="-135" r="24" fill="url(#gG)"/>
<circle cx="-46.8" cy="135" r="24" fill="url(#gG)"/>
<circle cx="-46.8" cy="-135" r="24" fill="url(#gG)"/>
<circle cx="-93.5" cy="108" r="24" fill="url(#gG)"/>
<circle cx="-93.5" cy="-108" r="24" fill="url(#gG)"/>
<circle cx="-140.3" cy="27" r="24" fill="url(#gG)"/>
<circle cx="-140.3" cy="-27" r="24" fill="url(#gG)"/>
<circle cx="0" cy="108" r="24" fill="url(#gG)"/>
<circle cx="0" cy="-108" r="24" fill="url(#gG)"/>
<circle cx="93.5" cy="54" r="24" fill="url(#gG)"/>
<circle cx="93.5" cy="-54" r="24" fill="url(#gG)"/>
<circle cx="-93.5" cy="54" r="24" fill="url(#gG)"/>
<circle cx="-93.5" cy="-54" r="24" fill="url(#gG)"/>
<circle cx="46.8" cy="81" r="24" fill="url(#gG)"/>
<circle cx="46.8" cy="-81" r="24" fill="url(#gG)"/>
<circle cx="-46.8" cy="81" r="24" fill="url(#gG)"/>
<circle cx="-46.8" cy="-81" r="24" fill="url(#gG)"/>
<circle cx="93.5" cy="0" r="24" fill="url(#gG)"/>
<circle cx="-93.5" cy="0" r="24" fill="url(#gG)"/>
<circle cx="0" cy="54" r="24" fill="url(#gG)"/>
<circle cx="0" cy="-54" r="24" fill="url(#gG)"/>
<circle cx="46.8" cy="27" r="24" fill="url(#gG)"/>
<circle cx="46.8" cy="-27" r="24" fill="url(#gG)"/>
<circle cx="-46.8" cy="27" r="24" fill="url(#gG)"/>
<circle cx="-46.8" cy="-27" r="24" fill="url(#gG)"/>
<circle cx="0" cy="0" r="25.5" fill="url(#gC)"/>
<circle cx="0" cy="-172" r="34.5" fill="url(#gW)"/>
<circle cx="65.8" cy="-158.9" r="34.5" fill="url(#gW)"/>
<circle cx="121.6" cy="-121.6" r="34.5" fill="url(#gW)"/>
<circle cx="158.9" cy="-65.8" r="34.5" fill="url(#gW)"/>
<circle cx="172" cy="0" r="34.5" fill="url(#gW)"/>
<circle cx="158.9" cy="65.8" r="34.5" fill="url(#gW)"/>
<circle cx="121.6" cy="121.6" r="34.5" fill="url(#gW)"/>
<circle cx="65.8" cy="158.9" r="34.5" fill="url(#gW)"/>
<circle cx="0" cy="172" r="34.5" fill="url(#gW)"/>
<circle cx="-65.8" cy="158.9" r="34.5" fill="url(#gW)"/>
<circle cx="-121.6" cy="121.6" r="34.5" fill="url(#gW)"/>
<circle cx="-158.9" cy="65.8" r="34.5" fill="url(#gW)"/>
<circle cx="-172" cy="0" r="34.5" fill="url(#gW)"/>
<circle cx="-158.9" cy="-65.8" r="34.5" fill="url(#gW)"/>
<circle cx="-121.6" cy="-121.6" r="34.5" fill="url(#gW)"/>
<circle cx="-65.8" cy="-158.9" r="34.5" fill="url(#gW)"/>
</g>
<g transform="translate(1270,1255)" stroke="#f0683a" stroke-width="11.5" stroke-linecap="round" filter="url(#fB)">
<line x1="-15.5" y1="-271.7" x2="15.5" y2="-244"/>
<line x1="-196.9" y1="-216.3" x2="-158" y2="-194"/>
<line x1="166.4" y1="-224.6" x2="183" y2="-188.5"/>
<line x1="-302.2" y1="-63.8" x2="-266.2" y2="-84.3"/>
<line x1="276.2" y1="-89.8" x2="291.1" y2="-55.5"/>
<line x1="-305" y1="77.6" x2="-265" y2="100.9"/>
<line x1="292.8" y1="71" x2="271.7" y2="105.4"/>
<line x1="-188.5" y1="202.4" x2="-166.4" y2="235.7"/>
<line x1="156.4" y1="205.2" x2="194.1" y2="232.9"/>
<line x1="-22.2" y1="260.6" x2="19.4" y2="278.4"/>
</g></g>
<path d="M752 1053H841L940 1134" fill="none" stroke="#9a9a9a" stroke-width="2"/>
<path d="M1613 1105L1700 1050" fill="none" stroke="#9a9a9a" stroke-width="2"/>
</svg>
<div class="abs" style="left:931px;top:811px;width:649px;height:136px;border:8px solid #7030a0;border-radius:22px;background:#fff"></div>
<div class="t" style="left:1073px;top:847.7px;font-size:83.3px;color:#7030a0;">Sucralfate</div>
<div class="t" style="left:423.5px;top:1014.6px;font-size:54.2px;color:#7030a0;">Sucralpate</div>
<div class="t" style="left:108.5px;top:1148.6px;font-size:45.8px;color:#0f74bd;">Làm dịu và bảo vệ da, giúp tự đổi mới</div>
<div class="t j" style="left:108.5px;top:1209.6px;font-size:45.8px;color:#000;width:755.5px;">Là một thành phần được sử dụng</div>
<div class="t j" style="left:108.5px;top:1270.2px;font-size:45.8px;color:#000;width:755.5px;">trong nhiều lĩnh vực, hiện nay được sử</div>
<div class="t" style="left:108.5px;top:1330.8px;font-size:45.8px;color:#000;">dụng như một thành phần mỹ phẩm</div>
<div class="t" style="left:1734px;top:944.6px;font-size:50px;color:#7030a0;">Công nghệ cao Liposome</div>
<div class="t" style="left:1734px;top:1003.7px;font-size:50px;color:#7030a0;">Tế bào lecithin hydro hóa</div>
<div class="t j" style="left:1734px;top:1173.1px;font-size:45.8px;color:#000;width:589.5px;">Giúp làm mờ các khuyết điểm</div>
<div class="t j" style="left:1734px;top:1234.2px;font-size:45.8px;color:#000;width:589.5px;">trên da với hoạt chất lipid tự</div>
<div class="t j" style="left:1734px;top:1295.2px;font-size:45.8px;color:#000;width:589.5px;">nhiên có cấu trúc tương tự</div>
<div class="t" style="left:1734px;top:1356.3px;font-size:45.8px;color:#000;">như cấu trúc của tế bào da.</div>
<svg width="2480" height="3508" viewBox="0 0 2480 3508"><defs><filter id="fIc" x="-20%" y="-20%" width="140%" height="140%"><feGaussianBlur stdDeviation="2.2"/></filter></defs>
<g filter="url(#fIc)" opacity="0.7"><g fill="none" stroke="#d9a6e6" stroke-width="8" stroke-linecap="round" stroke-linejoin="round">
<path d="M371 1573H396C410 1573 415 1584 421 1598"/>
<path d="M548 1573H522C508 1573 503 1584 497 1598"/>
<path d="M459 1520C459 1520 420 1568 420 1596A39 38 0 0 0 498 1596C498 1568 459 1520 459 1520Z"/>
<path d="M452 1572H466V1586H480V1600H466V1614H452V1600H438V1586H452Z"/>
<path d="M725 1577H790C800 1577 801 1585 801 1592C801 1602 796 1606 796 1616A16.5 16.5 0 0 0 829 1616C829 1606 824 1602 824 1592C824 1585 825 1577 835 1577H901"/>
<path d="M790 1569A30 30 0 1 1 835 1569"/>
<path d="M794 1549A19 19 0 0 1 812 1531"/>
<path d="M754 1569A16 16 0 0 1 783 1552"/>
<path d="M764 1560A7 7 0 0 1 772 1554"/>
<path d="M842 1552A16 16 0 0 1 871 1569"/>
<path d="M853 1554A7 7 0 0 1 861 1560"/>
<circle cx="741.5" cy="1520.5" r="8.5"/><circle cx="834.5" cy="1499" r="8.5"/><circle cx="887.5" cy="1523.5" r="8.5"/>
</g>
<g fill="#d9a6e6"><circle cx="777" cy="1518" r="6.5"/><circle cx="860" cy="1520.5" r="6.5"/><circle cx="736" cy="1557" r="6.5"/><circle cx="891.5" cy="1558" r="6.5"/>
<path d="M846 1443.5Q846 1459.5 862 1459.5Q846 1459.5 846 1475.5Q846 1459.5 830 1459.5Q846 1459.5 846 1443.5Z"/><path d="M881.5 1462Q881.5 1473 892.5 1473Q881.5 1473 881.5 1484Q881.5 1473 870.5 1473Q881.5 1473 881.5 1462Z"/></g></g>
<g fill="none" stroke="#5a3566" stroke-width="4" stroke-linecap="round" stroke-linejoin="round">
<path d="M371 1573H396C410 1573 415 1584 421 1598"/>
<path d="M548 1573H522C508 1573 503 1584 497 1598"/>
<path d="M459 1520C459 1520 420 1568 420 1596A39 38 0 0 0 498 1596C498 1568 459 1520 459 1520Z"/>
<path d="M452 1572H466V1586H480V1600H466V1614H452V1600H438V1586H452Z"/>
<path d="M725 1577H790C800 1577 801 1585 801 1592C801 1602 796 1606 796 1616A16.5 16.5 0 0 0 829 1616C829 1606 824 1602 824 1592C824 1585 825 1577 835 1577H901"/>
<path d="M790 1569A30 30 0 1 1 835 1569"/>
<path d="M794 1549A19 19 0 0 1 812 1531"/>
<path d="M754 1569A16 16 0 0 1 783 1552"/>
<path d="M764 1560A7 7 0 0 1 772 1554"/>
<path d="M842 1552A16 16 0 0 1 871 1569"/>
<path d="M853 1554A7 7 0 0 1 861 1560"/>
<circle cx="741.5" cy="1520.5" r="8.5"/><circle cx="834.5" cy="1499" r="8.5"/><circle cx="887.5" cy="1523.5" r="8.5"/>
</g>
<g fill="#5a3566"><circle cx="777" cy="1518" r="6.5"/><circle cx="860" cy="1520.5" r="6.5"/><circle cx="736" cy="1557" r="6.5"/><circle cx="891.5" cy="1558" r="6.5"/>
<path d="M846 1443.5Q846 1459.5 862 1459.5Q846 1459.5 846 1475.5Q846 1459.5 830 1459.5Q846 1459.5 846 1443.5Z"/><path d="M881.5 1462Q881.5 1473 892.5 1473Q881.5 1473 881.5 1484Q881.5 1473 870.5 1473Q881.5 1473 881.5 1462Z"/></g>
<g fill="#a394a6" font-family="'Liberation Sans','Noto Sans CJK KR',sans-serif" font-weight="normal" font-size="44"><text x="329" y="1697" textLength="255" lengthAdjust="spacingAndGlyphs">피부고민 케어</text><text x="722" y="1697" textLength="163" lengthAdjust="spacingAndGlyphs">피부진정</text></g>
<text x="1907" y="1791" font-family="'Liberation Sans','Noto Sans CJK KR',sans-serif" font-weight="normal" font-size="39" fill="#555" textLength="329" lengthAdjust="spacingAndGlyphs">*원료적 특성에 한함</text></svg>
<div class="t" style="left:612px;top:1525.2px;font-size:86px;color:#6a2a88;font-family:'Liberation Sans',sans-serif;">x</div>
<div class="panel"></div>
<svg width="2480" height="3508" viewBox="0 0 2480 3508"><clipPath id="cpP"><rect x="248" y="1851" width="2032" height="1602"/></clipPath><g clip-path="url(#cpP)"><defs><radialGradient id="gCirc" cx="50%" cy="50%" r="50%"><stop offset="0" stop-color="#fff" stop-opacity="1"/><stop offset="0.84" stop-color="#fff" stop-opacity="1"/><stop offset="0.93" stop-color="#fff" stop-opacity="0.6"/><stop offset="1" stop-color="#fff" stop-opacity="0.4"/></radialGradient><linearGradient id="gTitle" x1="0" x2="1" y1="0" y2="0"><stop offset="0" stop-color="#b68bc2"/><stop offset="1" stop-color="#cb9ad1"/></linearGradient><radialGradient id="gBl" cx="45%" cy="40%" r="60%"><stop offset="0" stop-color="#3d9cf2"/><stop offset="1" stop-color="#1f7ee0"/></radialGradient><radialGradient id="gOr" cx="45%" cy="40%" r="60%"><stop offset="0" stop-color="#f98a3c"/><stop offset="1" stop-color="#ea6a1e"/></radialGradient><filter id="fS" x="-10%" y="-10%" width="120%" height="120%"><feGaussianBlur stdDeviation="0.9"/></filter></defs>
<rect x="248" y="2991" width="2032" height="16" fill="#efe0d9"/>
<rect x="248" y="3007" width="2032" height="108" fill="#f6f2ee"/>
<rect x="248" y="3115" width="2032" height="338" fill="#f6f3f2"/>
<ellipse cx="205.5" cy="3034" rx="69" ry="11" fill="#ead5ce"/>
<ellipse cx="383" cy="3034" rx="69" ry="11" fill="#d2dcea"/>
<ellipse cx="560.5" cy="3034" rx="69" ry="11" fill="#ead5ce"/>
<ellipse cx="738" cy="3034" rx="69" ry="11" fill="#d2dcea"/>
<ellipse cx="915.5" cy="3034" rx="69" ry="11" fill="#ead5ce"/>
<ellipse cx="1093" cy="3034" rx="69" ry="11" fill="#d2dcea"/>
<ellipse cx="1270.5" cy="3034" rx="69" ry="11" fill="#ead5ce"/>
<ellipse cx="1448" cy="3034" rx="69" ry="11" fill="#ead5ce"/>
<ellipse cx="1625.5" cy="3034" rx="69" ry="11" fill="#d2dcea"/>
<ellipse cx="1803" cy="3034" rx="69" ry="11" fill="#ead5ce"/>
<ellipse cx="1980.5" cy="3034" rx="69" ry="11" fill="#ead5ce"/>
<ellipse cx="2158" cy="3034" rx="69" ry="11" fill="#d2dcea"/>
<ellipse cx="2335.5" cy="3034" rx="69" ry="11" fill="#ead5ce"/>
<ellipse cx="125.5" cy="3062" rx="69" ry="11" fill="#ead5ce"/>
<ellipse cx="303" cy="3062" rx="69" ry="11" fill="#ead5ce"/>
<ellipse cx="480.5" cy="3062" rx="69" ry="11" fill="#ead5ce"/>
<ellipse cx="658" cy="3062" rx="69" ry="11" fill="#ead5ce"/>
<ellipse cx="835.5" cy="3062" rx="69" ry="11" fill="#d2dcea"/>
<ellipse cx="1013" cy="3062" rx="69" ry="11" fill="#ead5ce"/>
<ellipse cx="1190.5" cy="3062" rx="69" ry="11" fill="#ead5ce"/>
<ellipse cx="1368" cy="3062" rx="69" ry="11" fill="#ead5ce"/>
<ellipse cx="1545.5" cy="3062" rx="69" ry="11" fill="#d2dcea"/>
<ellipse cx="1723" cy="3062" rx="69" ry="11" fill="#d2dcea"/>
<ellipse cx="1900.5" cy="3062" rx="69" ry="11" fill="#ead5ce"/>
<ellipse cx="2078" cy="3062" rx="69" ry="11" fill="#ead5ce"/>
<ellipse cx="2255.5" cy="3062" rx="69" ry="11" fill="#ead5ce"/>
<ellipse cx="205.5" cy="3091" rx="69" ry="11" fill="#ead5ce"/>
<ellipse cx="383" cy="3091" rx="69" ry="11" fill="#ead5ce"/>
<ellipse cx="560.5" cy="3091" rx="69" ry="11" fill="#d2dcea"/>
<ellipse cx="738" cy="3091" rx="69" ry="11" fill="#ead5ce"/>
<ellipse cx="915.5" cy="3091" rx="69" ry="11" fill="#ead5ce"/>
<ellipse cx="1093" cy="3091" rx="69" ry="11" fill="#ead5ce"/>
<ellipse cx="1270.5" cy="3091" rx="69" ry="11" fill="#ead5ce"/>
<ellipse cx="1448" cy="3091" rx="69" ry="11" fill="#ead5ce"/>
<ellipse cx="1625.5" cy="3091" rx="69" ry="11" fill="#ead5ce"/>
<ellipse cx="1803" cy="3091" rx="69" ry="11" fill="#ead5ce"/>
<ellipse cx="1980.5" cy="3091" rx="69" ry="11" fill="#ead5ce"/>
<ellipse cx="2158" cy="3091" rx="69" ry="11" fill="#ead5ce"/>
<ellipse cx="2335.5" cy="3091" rx="69" ry="11" fill="#d2dcea"/>
<rect x="74.7" y="3135" width="173" height="55" rx="16" fill="#eddada" stroke="#e8d2d2" stroke-width="2"/>
<circle cx="161.2" cy="3162.5" r="14" fill="#deb0b0"/>
<rect x="296.5" y="3135" width="173" height="55" rx="16" fill="#eddada" stroke="#e8d2d2" stroke-width="2"/>
<circle cx="383" cy="3162.5" r="14" fill="#deb0b0"/>
<rect x="518.3" y="3135" width="173" height="55" rx="16" fill="#eddada" stroke="#e8d2d2" stroke-width="2"/>
<circle cx="604.8" cy="3162.5" r="14" fill="#deb0b0"/>
<rect x="740.1" y="3135" width="173" height="55" rx="16" fill="#eddada" stroke="#e8d2d2" stroke-width="2"/>
<circle cx="826.6" cy="3162.5" r="14" fill="#deb0b0"/>
<rect x="961.9" y="3135" width="173" height="55" rx="16" fill="#eddada" stroke="#e8d2d2" stroke-width="2"/>
<circle cx="1048.4" cy="3162.5" r="14" fill="#deb0b0"/>
<rect x="1183.7" y="3135" width="173" height="55" rx="16" fill="#eddada" stroke="#e8d2d2" stroke-width="2"/>
<circle cx="1270.2" cy="3162.5" r="14" fill="#deb0b0"/>
<rect x="1405.5" y="3135" width="173" height="55" rx="16" fill="#eddada" stroke="#e8d2d2" stroke-width="2"/>
<circle cx="1492" cy="3162.5" r="14" fill="#deb0b0"/>
<rect x="1627.3" y="3135" width="173" height="55" rx="16" fill="#eddada" stroke="#e8d2d2" stroke-width="2"/>
<circle cx="1713.8" cy="3162.5" r="14" fill="#deb0b0"/>
<rect x="1849.1" y="3135" width="173" height="55" rx="16" fill="#eddada" stroke="#e8d2d2" stroke-width="2"/>
<circle cx="1935.6" cy="3162.5" r="14" fill="#deb0b0"/>
<rect x="2070.9" y="3135" width="173" height="55" rx="16" fill="#eddada" stroke="#e8d2d2" stroke-width="2"/>
<circle cx="2157.4" cy="3162.5" r="14" fill="#deb0b0"/>
<rect x="180.3" y="3211" width="173" height="56" rx="16" fill="#eddada" stroke="#e8d2d2" stroke-width="2"/>
<circle cx="266.8" cy="3239.0" r="14" fill="#deb0b0"/>
<rect x="403.5" y="3211" width="173" height="56" rx="16" fill="#eddada" stroke="#e8d2d2" stroke-width="2"/>
<circle cx="490" cy="3239.0" r="14" fill="#deb0b0"/>
<rect x="626.7" y="3211" width="173" height="56" rx="16" fill="#eddada" stroke="#e8d2d2" stroke-width="2"/>
<circle cx="713.2" cy="3239.0" r="14" fill="#deb0b0"/>
<rect x="849.9" y="3211" width="173" height="56" rx="16" fill="#eddada" stroke="#e8d2d2" stroke-width="2"/>
<circle cx="936.4" cy="3239.0" r="14" fill="#deb0b0"/>
<rect x="1073.1" y="3211" width="173" height="56" rx="16" fill="#eddada" stroke="#e8d2d2" stroke-width="2"/>
<circle cx="1159.6" cy="3239.0" r="14" fill="#deb0b0"/>
<rect x="1296.3" y="3211" width="173" height="56" rx="16" fill="#eddada" stroke="#e8d2d2" stroke-width="2"/>
<circle cx="1382.8" cy="3239.0" r="14" fill="#deb0b0"/>
<rect x="1519.5" y="3211" width="173" height="56" rx="16" fill="#eddada" stroke="#e8d2d2" stroke-width="2"/>
<circle cx="1606" cy="3239.0" r="14" fill="#deb0b0"/>
<rect x="1742.7" y="3211" width="173" height="56" rx="16" fill="#eddada" stroke="#e8d2d2" stroke-width="2"/>
<circle cx="1829.2" cy="3239.0" r="14" fill="#deb0b0"/>
<rect x="1965.9" y="3211" width="173" height="56" rx="16" fill="#eddada" stroke="#e8d2d2" stroke-width="2"/>
<circle cx="2052.4" cy="3239.0" r="14" fill="#deb0b0"/>
<rect x="2189.1" y="3211" width="173" height="56" rx="16" fill="#eddada" stroke="#e8d2d2" stroke-width="2"/>
<circle cx="2275.6" cy="3239.0" r="14" fill="#deb0b0"/>
<rect x="74.7" y="3287" width="173" height="89" rx="16" fill="#eddada" stroke="#e8d2d2" stroke-width="2"/>
<circle cx="161.2" cy="3331.5" r="14" fill="#dab2b2"/>
<rect x="296.5" y="3287" width="173" height="89" rx="16" fill="#eddada" stroke="#e8d2d2" stroke-width="2"/>
<circle cx="383" cy="3331.5" r="14" fill="#dab2b2"/>
<rect x="518.3" y="3287" width="173" height="89" rx="16" fill="#eddada" stroke="#e8d2d2" stroke-width="2"/>
<circle cx="604.8" cy="3331.5" r="14" fill="#dab2b2"/>
<rect x="740.1" y="3287" width="173" height="89" rx="16" fill="#eddada" stroke="#e8d2d2" stroke-width="2"/>
<circle cx="826.6" cy="3331.5" r="14" fill="#dab2b2"/>
<rect x="961.9" y="3287" width="173" height="89" rx="16" fill="#eddada" stroke="#e8d2d2" stroke-width="2"/>
<circle cx="1048.4" cy="3331.5" r="14" fill="#dab2b2"/>
<rect x="1183.7" y="3287" width="173" height="89" rx="16" fill="#eddada" stroke="#e8d2d2" stroke-width="2"/>
<circle cx="1270.2" cy="3331.5" r="14" fill="#dab2b2"/>
<rect x="1405.5" y="3287" width="173" height="89" rx="16" fill="#eddada" stroke="#e8d2d2" stroke-width="2"/>
<circle cx="1492" cy="3331.5" r="14" fill="#dab2b2"/>
<rect x="1627.3" y="3287" width="173" height="89" rx="16" fill="#eddada" stroke="#e8d2d2" stroke-width="2"/>
<circle cx="1713.8" cy="3331.5" r="14" fill="#dab2b2"/>
<rect x="1849.1" y="3287" width="173" height="89" rx="16" fill="#eddada" stroke="#e8d2d2" stroke-width="2"/>
<circle cx="1935.6" cy="3331.5" r="14" fill="#dab2b2"/>
<rect x="2070.9" y="3287" width="173" height="89" rx="16" fill="#eddada" stroke="#e8d2d2" stroke-width="2"/>
<circle cx="2157.4" cy="3331.5" r="14" fill="#dab2b2"/>
<rect x="180.3" y="3397" width="173" height="73" rx="16" fill="#eddada" stroke="#e8d2d2" stroke-width="2"/>
<circle cx="266.8" cy="3433.5" r="14" fill="#dab2b2"/>
<rect x="403.5" y="3397" width="173" height="73" rx="16" fill="#eddada" stroke="#e8d2d2" stroke-width="2"/>
<circle cx="490" cy="3433.5" r="14" fill="#dab2b2"/>
<rect x="626.7" y="3397" width="173" height="73" rx="16" fill="#eddada" stroke="#e8d2d2" stroke-width="2"/>
<circle cx="713.2" cy="3433.5" r="14" fill="#dab2b2"/>
<rect x="849.9" y="3397" width="173" height="73" rx="16" fill="#eddada" stroke="#e8d2d2" stroke-width="2"/>
<circle cx="936.4" cy="3433.5" r="14" fill="#dab2b2"/>
<rect x="1073.1" y="3397" width="173" height="73" rx="16" fill="#eddada" stroke="#e8d2d2" stroke-width="2"/>
<circle cx="1159.6" cy="3433.5" r="14" fill="#dab2b2"/>
<rect x="1296.3" y="3397" width="173" height="73" rx="16" fill="#eddada" stroke="#e8d2d2" stroke-width="2"/>
<circle cx="1382.8" cy="3433.5" r="14" fill="#dab2b2"/>
<rect x="1519.5" y="3397" width="173" height="73" rx="16" fill="#eddada" stroke="#e8d2d2" stroke-width="2"/>
<circle cx="1606" cy="3433.5" r="14" fill="#dab2b2"/>
<rect x="1742.7" y="3397" width="173" height="73" rx="16" fill="#eddada" stroke="#e8d2d2" stroke-width="2"/>
<circle cx="1829.2" cy="3433.5" r="14" fill="#dab2b2"/>
<rect x="1965.9" y="3397" width="173" height="73" rx="16" fill="#eddada" stroke="#e8d2d2" stroke-width="2"/>
<circle cx="2052.4" cy="3433.5" r="14" fill="#dab2b2"/>
<rect x="2189.1" y="3397" width="173" height="73" rx="16" fill="#eddada" stroke="#e8d2d2" stroke-width="2"/>
<circle cx="2275.6" cy="3433.5" r="14" fill="#dab2b2"/></g></svg>
<div class="t" style="left:690px;top:2026px;font-size:96px;font-family:'Liberation Sans',sans-serif;transform-origin:0 0;transform:scaleX(1.142);background:linear-gradient(90deg,#b589c1,#cd9bd2);-webkit-background-clip:text;background-clip:text;color:transparent;filter:blur(1px)">Water Holding System</div>
<div class="abs" style="left:535px;top:2143px;width:1449px;height:248px;background:#f2f2f2"></div>
<div class="t c" style="left:535px;top:2190.7px;font-size:62.5px;color:#000;width:1449px;">Cung cấp dịch vụ chăm sóc da cơ bản và</div>
<div class="t c" style="left:535px;top:2274.7px;font-size:62.5px;color:#000;width:1449px;">dinh dưỡng phong phú với</div>
<div class="abs" style="left:832px;top:2554px;width:588px;height:100px;border-radius:50px;background:#c79ed3"></div>
<div class="t" style="left:882px;top:2576px;font-size:60px;color:#fff;font-weight:normal;-webkit-text-stroke:2.2px #fff;font-family:'Liberation Sans',sans-serif;transform-origin:0 0;transform:scaleX(1.215);filter:blur(0.7px)">Alkyl Carbomer</div>
<div class="abs" style="left:500px;top:2683px;width:1088px;height:321px;background:#f2f2f2"></div>
<div class="t c" style="left:500px;top:2707.3px;font-size:45.8px;color:#0f74bd;width:1088px;">Chăm sóc tình trạng da</div>
<div class="t j" style="left:535px;top:2769.1px;font-size:41.7px;color:#000;width:1020px;">'Hệ thống giữ nước' có thành phần dày đặc và phân bổ</div>
<div class="t" style="left:535px;top:2823.9px;font-size:41.7px;color:#000;">đều cho toàn bộ tình trạng da</div>
<div class="t j" style="left:535px;top:2879.4px;font-size:41.7px;color:#000;width:1020px;">Chăm sóc dinh dưỡng cao dường như đã được quản lý</div>
<div class="t" style="left:535px;top:2935.6px;font-size:41.7px;color:#000;">chuyên sâu</div>
<svg width="2480" height="3508" viewBox="0 0 2480 3508">
<g fill="none" stroke="#5a4262" stroke-width="2.6" stroke-linecap="round" stroke-linejoin="round">
<path d="M506.5 2541C506.5 2541 489 2563 489 2577A17.5 17 0 0 0 524 2577C524 2563 506.5 2541 506.5 2541Z"/>
<path d="M517 2579A11 11 0 0 1 508 2587"/>
<path d="M427 2608.5H586"/>
<path d="M427 2625 431 2623.5 434.9 2622.1 438.9 2621 442.9 2620.3 446.9 2620 450.9 2620.2 454.8 2620.9 458.8 2622 462.8 2623.4 466.8 2624.9 470.7 2626.4 474.7 2627.8 478.7 2629 482.6 2629.7 486.6 2630 490.6 2629.8 494.6 2629.1 498.6 2628.1 502.5 2626.7 506.5 2625.2 510.5 2623.7 514.5 2622.2 518.4 2621.1 522.4 2620.3 526.4 2620 530.4 2620.2 534.3 2620.8 538.3 2621.8 542.3 2623.2 546.2 2624.7 550.2 2626.3 554.2 2627.7 558.2 2628.8 562.1 2629.6 566.1 2630 570.1 2629.9 574.1 2629.2 578 2628.2 582 2626.9 586 2625.4"/>
<path d="M618 2608.5H774"/>
<path d="M618 2624 621.9 2622.5 625.8 2621.1 629.7 2620 633.6 2619.2 637.5 2619 641.4 2619.2 645.3 2620 649.2 2621.1 653.1 2622.5 657 2624 660.9 2625.5 664.8 2626.9 668.7 2628 672.6 2628.8 676.5 2629 680.4 2628.8 684.3 2628 688.2 2626.9 692.1 2625.5 696 2624 699.9 2622.5 703.8 2621.1 707.7 2620 711.6 2619.2 715.5 2619 719.4 2619.2 723.3 2620 727.2 2621.1 731.1 2622.5 735 2624 738.9 2625.5 742.8 2626.9 746.7 2628 750.6 2628.8 754.5 2629 758.4 2628.8 762.3 2628 766.2 2626.9 770.1 2625.5 774 2624"/>
<path d="M635 2569Q637.5 2577.5 646 2580Q637.5 2582.5 635 2591Q632.5 2582.5 624 2580Q632.5 2577.5 635 2569Z"/>
<path d="M672.5 2535Q675.6 2545.8 686.5 2549Q675.6 2552.2 672.5 2563Q669.4 2552.2 658.5 2549Q669.4 2545.8 672.5 2535Z"/>
<path d="M712 2574.5Q714.2 2582.2 722 2584.5Q714.2 2586.8 712 2594.5Q709.8 2586.8 702 2584.5Q709.8 2582.2 712 2574.5Z"/>
<path d="M754 2548.5Q757.6 2560.9 770 2564.5Q757.6 2568.1 754 2580.5Q750.4 2568.1 738 2564.5Q750.4 2560.9 754 2548.5Z"/>
</g>
<g fill="#5a4262">
<circle cx="444" cy="2644" r="2"/>
<circle cx="476.5" cy="2644" r="2"/>
<circle cx="509" cy="2644" r="2"/>
<circle cx="541.5" cy="2644" r="2"/>
<circle cx="574" cy="2644" r="2"/>
<circle cx="460" cy="2660" r="2"/>
<circle cx="492.5" cy="2660" r="2"/>
<circle cx="525" cy="2660" r="2"/>
<circle cx="557.5" cy="2660" r="2"/>
<circle cx="633.8" cy="2643.5" r="6"/>
<circle cx="671" cy="2643.5" r="6"/>
<circle cx="711.8" cy="2643.5" r="6"/>
<circle cx="752.4" cy="2643.5" r="6"/>
<circle cx="652" cy="2643.5" r="2.2"/>
<circle cx="691" cy="2643.5" r="2.2"/>
<circle cx="732" cy="2643.5" r="2.2"/>
<circle cx="654" cy="2662.5" r="6"/>
<circle cx="692.8" cy="2662.5" r="6"/>
<circle cx="733.5" cy="2662.5" r="6"/>
<circle cx="634" cy="2662.5" r="2.2"/>
<circle cx="673" cy="2662.5" r="2.2"/>
<circle cx="713" cy="2662.5" r="2.2"/>
<circle cx="753" cy="2662.5" r="2.2"/>
</g>
<path d="M1420 2604H1867.5V2667" fill="none" stroke="#c5b2cc" stroke-width="2.5"/>
<ellipse cx="1864.3" cy="2892" rx="256" ry="225" fill="url(#gCirc)"/>
<ellipse cx="1864.3" cy="2892" rx="256" ry="225" fill="none" stroke="#cfc8cf" stroke-width="2"/>
<g fill="none" stroke="#38383a" stroke-width="3.5" stroke-linecap="round">
<path d="M1699 2787.2 1704.5 2784.4 1710 2782.2 1715.5 2780.7 1721.1 2780 1726.6 2780.3 1732.1 2781.4 1737.6 2783.3 1743.1 2785.8 1748.7 2788.7 1754.2 2791.7 1759.7 2794.6 1765.2 2797 1770.7 2798.8 1776.2 2799.8 1781.8 2799.9 1787.3 2799.1 1792.8 2797.5 1798.3 2795.2 1803.8 2792.4 1809.3 2789.4 1814.8 2786.5 1820.4 2783.8 1825.9 2781.8 1831.4 2780.4 1836.9 2780 1842.4 2780.5 1848 2781.8 1853.5 2783.9 1859 2786.5 1864.5 2789.5 1870 2792.5 1875.5 2795.2 1881 2797.5 1886.6 2799.2 1892.1 2799.9 1897.6 2799.8 1903.1 2798.8 1908.6 2797 1914.2 2794.5 1919.7 2791.7 1925.2 2788.7 1930.7 2785.8 1936.2 2783.3 1941.7 2781.4 1947.2 2780.3 1952.8 2780 1958.3 2780.7 1963.8 2782.2 1969.3 2784.5 1974.8 2787.2 1980.3 2790.2 1985.9 2793.2 1991.4 2795.8 1996.9 2798 2002.4 2799.4 2007.9 2800 2013.5 2799.7 2019 2798.4 2024.5 2796.4 2030 2793.9"/>
<path d="M1699 2889.2 1704.5 2886.4 1710 2884.2 1715.5 2882.7 1721.1 2882 1726.6 2882.3 1732.1 2883.4 1737.6 2885.3 1743.1 2887.8 1748.7 2890.7 1754.2 2893.7 1759.7 2896.6 1765.2 2899 1770.7 2900.8 1776.2 2901.8 1781.8 2901.9 1787.3 2901.1 1792.8 2899.5 1798.3 2897.2 1803.8 2894.4 1809.3 2891.4 1814.8 2888.5 1820.4 2885.8 1825.9 2883.8 1831.4 2882.4 1836.9 2882 1842.4 2882.5 1848 2883.8 1853.5 2885.9 1859 2888.5 1864.5 2891.5 1870 2894.5 1875.5 2897.2 1881 2899.5 1886.6 2901.2 1892.1 2901.9 1897.6 2901.8 1903.1 2900.8 1908.6 2899 1914.2 2896.5 1919.7 2893.7 1925.2 2890.7 1930.7 2887.8 1936.2 2885.3 1941.7 2883.4 1947.2 2882.3 1952.8 2882 1958.3 2882.7 1963.8 2884.2 1969.3 2886.5 1974.8 2889.2 1980.3 2892.2 1985.9 2895.2 1991.4 2897.8 1996.9 2900 2002.4 2901.4 2007.9 2902 2013.5 2901.7 2019 2900.4 2024.5 2898.4 2030 2895.9"/>
<path d="M1699 2990.7 1704.5 2987.9 1710 2985.7 1715.5 2984.2 1721.1 2983.5 1726.6 2983.8 1732.1 2984.9 1737.6 2986.8 1743.1 2989.3 1748.7 2992.2 1754.2 2995.2 1759.7 2998.1 1765.2 3000.5 1770.7 3002.3 1776.2 3003.3 1781.8 3003.4 1787.3 3002.6 1792.8 3001 1798.3 2998.7 1803.8 2995.9 1809.3 2992.9 1814.8 2990 1820.4 2987.3 1825.9 2985.3 1831.4 2983.9 1836.9 2983.5 1842.4 2984 1848 2985.3 1853.5 2987.4 1859 2990 1864.5 2993 1870 2996 1875.5 2998.7 1881 3001 1886.6 3002.7 1892.1 3003.4 1897.6 3003.3 1903.1 3002.3 1908.6 3000.5 1914.2 2998 1919.7 2995.2 1925.2 2992.2 1930.7 2989.3 1936.2 2986.8 1941.7 2984.9 1947.2 2983.8 1952.8 2983.5 1958.3 2984.2 1963.8 2985.7 1969.3 2988 1974.8 2990.7 1980.3 2993.7 1985.9 2996.7 1991.4 2999.3 1996.9 3001.5 2002.4 3002.9 2007.9 3003.5 2013.5 3003.2 2019 3001.9 2024.5 2999.9 2030 2997.4"/>
<path d="M1755.7 2747 1758.1 2751.8 1759.8 2756.6 1760.8 2761.4 1760.9 2766.2 1760.2 2771 1758.7 2775.8 1756.5 2780.6 1753.8 2785.4 1750.9 2790.2 1748 2795 1745.3 2799.8 1743.2 2804.6 1741.7 2809.4 1741 2814.2 1741.2 2819 1742.3 2823.8 1744.1 2828.6 1746.5 2833.4 1749.3 2838.2 1752.3 2843 1755.1 2847.8 1757.6 2852.6 1759.5 2857.4 1760.7 2862.2 1761 2867 1760.4 2871.8 1759.1 2876.6 1757 2881.4 1754.4 2886.2 1751.5 2891 1748.6 2895.8 1745.8 2900.6 1743.6 2905.4 1741.9 2910.2 1741.1 2915 1741.1 2919.8 1742 2924.6 1743.7 2929.4 1746 2934.2 1748.7 2939 1751.7 2943.8 1754.6 2948.6 1757.1 2953.4 1759.2 2958.2 1760.5 2963 1761 2967.8 1760.6 2972.6 1759.4 2977.4 1757.5 2982.2 1755 2987 1752.1 2991.8 1749.2 2996.6 1746.4 3001.4 1744 3006.2 1742.2 3011 1741.2 3015.8 1741 3020.6 1741.8 3025.4 1743.3 3030.2 1745.5 3035"/>
<path d="M1870.2 2747 1872.6 2751.8 1874.3 2756.6 1875.3 2761.4 1875.4 2766.2 1874.7 2771 1873.2 2775.8 1871 2780.6 1868.3 2785.4 1865.4 2790.2 1862.5 2795 1859.8 2799.8 1857.7 2804.6 1856.2 2809.4 1855.5 2814.2 1855.7 2819 1856.8 2823.8 1858.6 2828.6 1861 2833.4 1863.8 2838.2 1866.8 2843 1869.6 2847.8 1872.1 2852.6 1874 2857.4 1875.2 2862.2 1875.5 2867 1874.9 2871.8 1873.6 2876.6 1871.5 2881.4 1868.9 2886.2 1866 2891 1863.1 2895.8 1860.3 2900.6 1858.1 2905.4 1856.4 2910.2 1855.6 2915 1855.6 2919.8 1856.5 2924.6 1858.2 2929.4 1860.5 2934.2 1863.2 2939 1866.2 2943.8 1869.1 2948.6 1871.6 2953.4 1873.7 2958.2 1875 2963 1875.5 2967.8 1875.1 2972.6 1873.9 2977.4 1872 2982.2 1869.5 2987 1866.6 2991.8 1863.7 2996.6 1860.9 3001.4 1858.5 3006.2 1856.7 3011 1855.7 3015.8 1855.5 3020.6 1856.3 3025.4 1857.8 3030.2 1860 3035"/>
<path d="M1984.7 2747 1987.1 2751.8 1988.8 2756.6 1989.8 2761.4 1989.9 2766.2 1989.2 2771 1987.7 2775.8 1985.5 2780.6 1982.8 2785.4 1979.9 2790.2 1977 2795 1974.3 2799.8 1972.2 2804.6 1970.7 2809.4 1970 2814.2 1970.2 2819 1971.3 2823.8 1973.1 2828.6 1975.5 2833.4 1978.3 2838.2 1981.3 2843 1984.1 2847.8 1986.6 2852.6 1988.5 2857.4 1989.7 2862.2 1990 2867 1989.4 2871.8 1988.1 2876.6 1986 2881.4 1983.4 2886.2 1980.5 2891 1977.6 2895.8 1974.8 2900.6 1972.6 2905.4 1970.9 2910.2 1970.1 2915 1970.1 2919.8 1971 2924.6 1972.7 2929.4 1975 2934.2 1977.7 2939 1980.7 2943.8 1983.6 2948.6 1986.1 2953.4 1988.2 2958.2 1989.5 2963 1990 2967.8 1989.6 2972.6 1988.4 2977.4 1986.5 2982.2 1984 2987 1981.1 2991.8 1978.2 2996.6 1975.4 3001.4 1973 3006.2 1971.2 3011 1970.2 3015.8 1970 3020.6 1970.8 3025.4 1972.3 3030.2 1974.5 3035"/>
</g>
<g filter="url(#fS)">
<circle cx="1820" cy="2848" r="31" fill="url(#gBl)"/>
<circle cx="1779" cy="2826" r="11" fill="url(#gBl)"/>
<circle cx="2001" cy="2828" r="9" fill="url(#gBl)"/>
<circle cx="1825.5" cy="2910" r="10" fill="url(#gBl)"/>
<circle cx="1925" cy="2948" r="25" fill="url(#gBl)"/>
<circle cx="1925" cy="2820.5" r="22" fill="url(#gOr)"/>
<circle cx="1916.5" cy="2852" r="20" fill="url(#gOr)"/>
<circle cx="1782.5" cy="2969.5" r="9" fill="url(#gOr)"/>
<circle cx="1723" cy="2863.5" r="9" fill="#e23cc0"/>
<circle cx="1839" cy="2758" r="7" fill="#e23cc0"/>
<circle cx="2016" cy="2968.5" r="9" fill="#e23cc0"/>
<circle cx="1718" cy="3005" r="7" fill="#e23cc0"/>
<circle cx="1986" cy="3018" r="7" fill="#e23cc0"/>
</g>
<text x="1907" y="3396" font-family="'Liberation Sans','Noto Sans CJK KR',sans-serif" font-weight="normal" font-size="39" fill="#555" textLength="329" lengthAdjust="spacingAndGlyphs">*원료적 특성에 한함</text>
<defs><filter id="fGlow" x="-5%" y="-30%" width="110%" height="160%"><feGaussianBlur stdDeviation="2"/></filter></defs><g transform="translate(746,1913) rotate(-44)" font-family="Liberation Sans, sans-serif" font-weight="normal" stroke-linejoin="round"><g filter="url(#fGlow)" opacity="0.7"><text x="0" y="0" font-size="74.5" fill="none" stroke="#f6a24e" stroke-width="8.5">Atomy Vietnam Club –</text><text x="778" y="0" font-size="67.4" word-spacing="8.9" fill="none" stroke="#f6a24e" stroke-width="8.5">093 345 2839</text></g><text x="0" y="0" font-size="74.5" fill="#fff" stroke="#e67a1c" stroke-width="5" paint-order="stroke">Atomy Vietnam Club –</text><text x="778" y="0" font-size="67.4" word-spacing="8.9" fill="#fff" stroke="#e67a1c" stroke-width="5" paint-order="stroke">093 345 2839</text><text x="0" y="0" font-size="74.5" fill="none" stroke="#e67a1c" stroke-width="2.2">Atomy Vietnam Club –</text><text x="778" y="0" font-size="67.4" word-spacing="8.9" fill="none" stroke="#e67a1c" stroke-width="2.2">093 345 2839</text></g>
</svg>
</body></html>
